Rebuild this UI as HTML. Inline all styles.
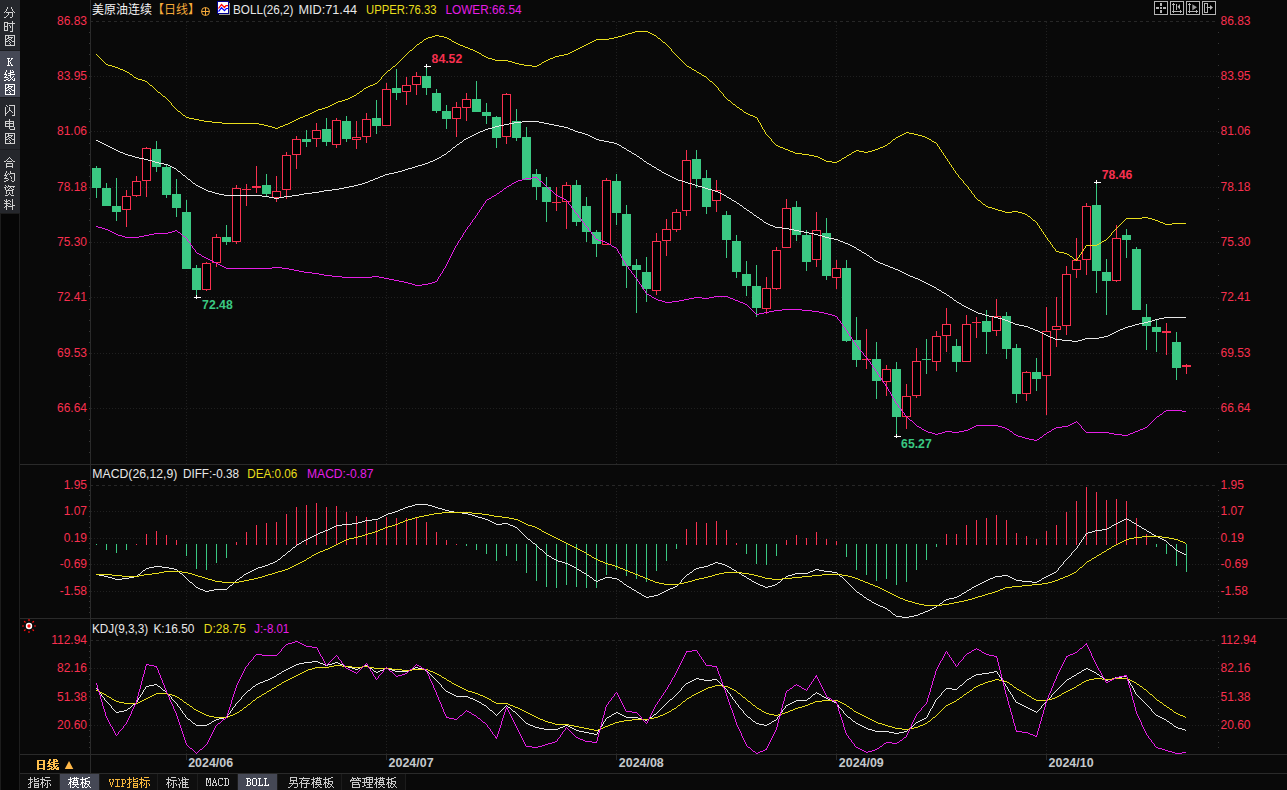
<!DOCTYPE html>
<html><head><meta charset="utf-8"><title>chart</title><style>html,body{margin:0;padding:0;background:#090909;overflow:hidden}svg{display:block}text{white-space:pre}</style></head><body>
<svg width="1287" height="790" viewBox="0 0 1287 790" font-family="Liberation Sans, sans-serif" font-size="12">
<rect x="0" y="0" width="1287" height="790" fill="#090909"/>
<rect x="0" y="0" width="20" height="213" fill="#25272c"/>
<rect x="0" y="51" width="20" height="46" fill="#454855"/>
<rect x="0" y="50" width="20" height="1" fill="#1c1d21"/>
<rect x="0" y="97" width="20" height="1" fill="#1c1d21"/>
<rect x="0" y="149" width="20" height="1" fill="#1c1d21"/>
<rect x="0" y="213" width="20" height="577" fill="#060606"/>
<rect x="0" y="213" width="20" height="1" fill="#1c1c1c"/>
<rect x="0" y="213" width="1" height="577" fill="#1c1c1c"/>
<rect x="19" y="213" width="1" height="577" fill="#1e1e1e"/>
<path d="M7 7.5h1M11 7.5h1M7 8.5h1M11 8.5h1M6 9.5h1M12 9.5h1M6 10.5h1M12 10.5h1M5 11.5h1M13 11.5h1M4 12.5h1M6 12.5h7M14 12.5h1M8 13.5h1M12 13.5h1M8 14.5h1M12 14.5h1M7 15.5h1M12 15.5h1M6 16.5h1M12 16.5h1M4 17.5h2M10 17.5h2M12 21.5h1M4 22.5h4M12 22.5h1M4 23.5h1M7 23.5h8M4 24.5h1M7 24.5h1M12 24.5h1M4 25.5h1M7 25.5h1M9 25.5h1M12 25.5h1M4 26.5h4M10 26.5h1M12 26.5h1M4 27.5h1M7 27.5h1M10 27.5h1M12 27.5h1M4 28.5h1M7 28.5h1M12 28.5h1M4 29.5h1M7 29.5h1M12 29.5h1M4 30.5h4M12 30.5h1M10 31.5h3M5 35.5h10M5 36.5h1M8 36.5h1M14 36.5h1M5 37.5h1M8 37.5h5M14 37.5h1M5 38.5h1M7 38.5h2M11 38.5h1M14 38.5h1M5 39.5h2M9 39.5h2M14 39.5h1M5 40.5h1M8 40.5h1M11 40.5h1M14 40.5h1M5 41.5h3M9 41.5h1M12 41.5h3M5 42.5h1M10 42.5h1M14 42.5h1M5 43.5h1M9 43.5h1M14 43.5h1M5 44.5h1M10 44.5h1M14 44.5h1M5 45.5h10" fill="none" stroke="#d0d0d0" stroke-width="1" shape-rendering="crispEdges"/>
<path d="M7 58.5h3M11 58.5h2M8 59.5h1M11 59.5h1M8 60.5h1M10 60.5h1M8 61.5h2M8 62.5h1M10 62.5h1M8 63.5h1M10 63.5h1M8 64.5h1M11 64.5h1M7 65.5h3M11 65.5h2" fill="none" stroke="#ffffff" stroke-width="1" shape-rendering="crispEdges"/>
<path d="M6 70.5h1M10 70.5h1M12 70.5h1M6 71.5h1M10 71.5h1M13 71.5h1M5 72.5h1M10 72.5h4M5 73.5h1M8 73.5h3M4 74.5h3M10 74.5h5M6 75.5h1M8 75.5h3M5 76.5h1M10 76.5h1M13 76.5h1M4 77.5h4M10 77.5h1M12 77.5h1M8 78.5h1M11 78.5h1M14 78.5h1M6 79.5h2M10 79.5h1M12 79.5h1M14 79.5h1M4 80.5h2M8 80.5h2M13 80.5h2M5 84.5h10M5 85.5h1M8 85.5h1M14 85.5h1M5 86.5h1M8 86.5h5M14 86.5h1M5 87.5h1M7 87.5h2M11 87.5h1M14 87.5h1M5 88.5h2M9 88.5h2M14 88.5h1M5 89.5h1M8 89.5h1M11 89.5h1M14 89.5h1M5 90.5h3M9 90.5h1M12 90.5h3M5 91.5h1M10 91.5h1M14 91.5h1M5 92.5h1M9 92.5h1M14 92.5h1M5 93.5h1M10 93.5h1M14 93.5h1M5 94.5h10" fill="none" stroke="#ffffff" stroke-width="1" shape-rendering="crispEdges"/>
<path d="M6 105.5h1M9 105.5h6M7 106.5h1M14 106.5h1M5 107.5h1M9 107.5h1M14 107.5h1M5 108.5h1M9 108.5h1M14 108.5h1M5 109.5h1M9 109.5h1M14 109.5h1M5 110.5h1M9 110.5h2M14 110.5h1M5 111.5h1M8 111.5h1M11 111.5h1M14 111.5h1M5 112.5h1M7 112.5h1M12 112.5h1M14 112.5h1M5 113.5h2M14 113.5h1M5 114.5h1M14 114.5h1M5 115.5h1M12 115.5h3M9 119.5h1M9 120.5h1M5 121.5h9M5 122.5h1M9 122.5h1M13 122.5h1M5 123.5h9M5 124.5h1M9 124.5h1M13 124.5h1M5 125.5h1M9 125.5h1M13 125.5h1M5 126.5h9M9 127.5h1M14 127.5h1M9 128.5h1M14 128.5h1M10 129.5h5M5 133.5h10M5 134.5h1M8 134.5h1M14 134.5h1M5 135.5h1M8 135.5h5M14 135.5h1M5 136.5h1M7 136.5h2M11 136.5h1M14 136.5h1M5 137.5h2M9 137.5h2M14 137.5h1M5 138.5h1M8 138.5h1M11 138.5h1M14 138.5h1M5 139.5h3M9 139.5h1M12 139.5h3M5 140.5h1M10 140.5h1M14 140.5h1M5 141.5h1M9 141.5h1M14 141.5h1M5 142.5h1M10 142.5h1M14 142.5h1M5 143.5h10" fill="none" stroke="#d0d0d0" stroke-width="1" shape-rendering="crispEdges"/>
<path d="M9 157.5h1M8 158.5h1M10 158.5h1M7 159.5h1M11 159.5h1M6 160.5h1M12 160.5h1M4 161.5h2M7 161.5h5M13 161.5h2M6 163.5h7M6 164.5h1M12 164.5h1M6 165.5h1M12 165.5h1M6 166.5h7M6 167.5h1M12 167.5h1M6 171.5h1M10 171.5h1M6 172.5h1M10 172.5h1M5 173.5h1M8 173.5h1M10 173.5h5M5 174.5h1M7 174.5h1M9 174.5h1M14 174.5h1M4 175.5h3M14 175.5h1M6 176.5h1M10 176.5h1M14 176.5h1M5 177.5h1M11 177.5h1M14 177.5h1M4 178.5h4M11 178.5h1M14 178.5h1M8 179.5h1M14 179.5h1M6 180.5h2M11 180.5h1M14 180.5h1M4 181.5h2M12 181.5h2M5 185.5h1M8 185.5h1M6 186.5h1M8 186.5h7M4 187.5h2M7 187.5h1M10 187.5h1M13 187.5h1M5 188.5h1M9 188.5h1M11 188.5h1M5 189.5h1M8 189.5h1M12 189.5h2M6 190.5h7M6 191.5h1M12 191.5h1M6 192.5h1M9 192.5h1M12 192.5h1M6 193.5h1M9 193.5h1M12 193.5h1M8 194.5h1M10 194.5h1M5 195.5h3M11 195.5h3M6 199.5h1M12 199.5h1M4 200.5h1M6 200.5h1M8 200.5h2M12 200.5h1M5 201.5h3M10 201.5h1M12 201.5h1M6 202.5h1M12 202.5h1M4 203.5h6M12 203.5h1M6 204.5h1M10 204.5h1M12 204.5h1M6 205.5h2M12 205.5h3M5 206.5h2M8 206.5h5M4 207.5h1M6 207.5h1M12 207.5h1M6 208.5h1M12 208.5h1M6 209.5h1M12 209.5h1" fill="none" stroke="#d0d0d0" stroke-width="1" shape-rendering="crispEdges"/>
<rect x="90" y="0" width="1" height="774" fill="#2a2a2a"/>
<rect x="20" y="464" width="1267" height="1" fill="#2a2a2a"/>
<rect x="20" y="618" width="1267" height="1" fill="#2a2a2a"/>
<rect x="20" y="754" width="1267" height="1" fill="#2a2a2a"/>
<rect x="20" y="773" width="1267" height="1" fill="#2a2a2a"/>
<g shape-rendering="crispEdges">
<line x1="91" x2="1216" y1="21.5" y2="21.5" stroke="#272727" stroke-dasharray="3 3" stroke-dashoffset="1"/>
<line x1="91" x2="1218" y1="76.5" y2="76.5" stroke="#202020" stroke-dasharray="1 2"/>
<line x1="91" x2="1218" y1="131.5" y2="131.5" stroke="#202020" stroke-dasharray="1 2"/>
<line x1="91" x2="1218" y1="187.5" y2="187.5" stroke="#202020" stroke-dasharray="1 2"/>
<line x1="91" x2="1218" y1="242.5" y2="242.5" stroke="#202020" stroke-dasharray="1 2"/>
<line x1="91" x2="1218" y1="297.5" y2="297.5" stroke="#202020" stroke-dasharray="1 2"/>
<line x1="91" x2="1218" y1="353.5" y2="353.5" stroke="#202020" stroke-dasharray="1 2"/>
<line x1="91" x2="1218" y1="408.5" y2="408.5" stroke="#202020" stroke-dasharray="1 2"/>
<line x1="91" x2="1216" y1="485.5" y2="485.5" stroke="#272727" stroke-dasharray="3 3" stroke-dashoffset="1"/>
<line x1="91" x2="1218" y1="511.5" y2="511.5" stroke="#202020" stroke-dasharray="1 2"/>
<line x1="91" x2="1218" y1="538.5" y2="538.5" stroke="#202020" stroke-dasharray="1 2"/>
<line x1="91" x2="1218" y1="564.5" y2="564.5" stroke="#202020" stroke-dasharray="1 2"/>
<line x1="91" x2="1218" y1="591.5" y2="591.5" stroke="#202020" stroke-dasharray="1 2"/>
<line x1="91" x2="1216" y1="640.5" y2="640.5" stroke="#272727" stroke-dasharray="3 3" stroke-dashoffset="1"/>
<line x1="91" x2="1218" y1="668.5" y2="668.5" stroke="#202020" stroke-dasharray="1 2"/>
<line x1="91" x2="1218" y1="697.5" y2="697.5" stroke="#202020" stroke-dasharray="1 2"/>
<line x1="91" x2="1218" y1="725.5" y2="725.5" stroke="#202020" stroke-dasharray="1 2"/>
<line x1="186.5" x2="186.5" y1="22" y2="464" stroke="#202020" stroke-dasharray="1 2"/>
<line x1="186.5" x2="186.5" y1="488" y2="618" stroke="#202020" stroke-dasharray="1 2"/>
<line x1="186.5" x2="186.5" y1="642" y2="754" stroke="#202020" stroke-dasharray="1 2"/>
<rect x="186" y="755" width="1" height="5" fill="#2a2a2a"/>
<line x1="386.5" x2="386.5" y1="22" y2="464" stroke="#202020" stroke-dasharray="1 2"/>
<line x1="386.5" x2="386.5" y1="488" y2="618" stroke="#202020" stroke-dasharray="1 2"/>
<line x1="386.5" x2="386.5" y1="642" y2="754" stroke="#202020" stroke-dasharray="1 2"/>
<rect x="386" y="755" width="1" height="5" fill="#2a2a2a"/>
<line x1="616.5" x2="616.5" y1="22" y2="464" stroke="#202020" stroke-dasharray="1 2"/>
<line x1="616.5" x2="616.5" y1="488" y2="618" stroke="#202020" stroke-dasharray="1 2"/>
<line x1="616.5" x2="616.5" y1="642" y2="754" stroke="#202020" stroke-dasharray="1 2"/>
<rect x="616" y="755" width="1" height="5" fill="#2a2a2a"/>
<line x1="836.5" x2="836.5" y1="22" y2="464" stroke="#202020" stroke-dasharray="1 2"/>
<line x1="836.5" x2="836.5" y1="488" y2="618" stroke="#202020" stroke-dasharray="1 2"/>
<line x1="836.5" x2="836.5" y1="642" y2="754" stroke="#202020" stroke-dasharray="1 2"/>
<rect x="836" y="755" width="1" height="5" fill="#2a2a2a"/>
<line x1="1046.5" x2="1046.5" y1="22" y2="464" stroke="#202020" stroke-dasharray="1 2"/>
<line x1="1046.5" x2="1046.5" y1="488" y2="618" stroke="#202020" stroke-dasharray="1 2"/>
<line x1="1046.5" x2="1046.5" y1="642" y2="754" stroke="#202020" stroke-dasharray="1 2"/>
<rect x="1046" y="755" width="1" height="5" fill="#2a2a2a"/>
<rect x="1218" y="32" width="1" height="1" fill="#363636"/>
<rect x="89" y="32" width="1" height="1" fill="#363636"/>
<rect x="1218" y="43" width="1" height="1" fill="#363636"/>
<rect x="89" y="43" width="1" height="1" fill="#363636"/>
<rect x="1218" y="54" width="1" height="1" fill="#363636"/>
<rect x="89" y="54" width="1" height="1" fill="#363636"/>
<rect x="1218" y="65" width="1" height="1" fill="#363636"/>
<rect x="89" y="65" width="1" height="1" fill="#363636"/>
<rect x="1218" y="76" width="1" height="1" fill="#363636"/>
<rect x="89" y="76" width="1" height="1" fill="#363636"/>
<rect x="1218" y="87" width="1" height="1" fill="#363636"/>
<rect x="89" y="87" width="1" height="1" fill="#363636"/>
<rect x="1218" y="98" width="1" height="1" fill="#363636"/>
<rect x="89" y="98" width="1" height="1" fill="#363636"/>
<rect x="1218" y="109" width="1" height="1" fill="#363636"/>
<rect x="89" y="109" width="1" height="1" fill="#363636"/>
<rect x="1218" y="121" width="1" height="1" fill="#363636"/>
<rect x="89" y="121" width="1" height="1" fill="#363636"/>
<rect x="1218" y="132" width="1" height="1" fill="#363636"/>
<rect x="89" y="132" width="1" height="1" fill="#363636"/>
<rect x="1218" y="143" width="1" height="1" fill="#363636"/>
<rect x="89" y="143" width="1" height="1" fill="#363636"/>
<rect x="1218" y="154" width="1" height="1" fill="#363636"/>
<rect x="89" y="154" width="1" height="1" fill="#363636"/>
<rect x="1218" y="165" width="1" height="1" fill="#363636"/>
<rect x="89" y="165" width="1" height="1" fill="#363636"/>
<rect x="1218" y="176" width="1" height="1" fill="#363636"/>
<rect x="89" y="176" width="1" height="1" fill="#363636"/>
<rect x="1218" y="187" width="1" height="1" fill="#363636"/>
<rect x="89" y="187" width="1" height="1" fill="#363636"/>
<rect x="1218" y="198" width="1" height="1" fill="#363636"/>
<rect x="89" y="198" width="1" height="1" fill="#363636"/>
<rect x="1218" y="209" width="1" height="1" fill="#363636"/>
<rect x="89" y="209" width="1" height="1" fill="#363636"/>
<rect x="1218" y="220" width="1" height="1" fill="#363636"/>
<rect x="89" y="220" width="1" height="1" fill="#363636"/>
<rect x="1218" y="231" width="1" height="1" fill="#363636"/>
<rect x="89" y="231" width="1" height="1" fill="#363636"/>
<rect x="1218" y="242" width="1" height="1" fill="#363636"/>
<rect x="89" y="242" width="1" height="1" fill="#363636"/>
<rect x="1218" y="253" width="1" height="1" fill="#363636"/>
<rect x="89" y="253" width="1" height="1" fill="#363636"/>
<rect x="1218" y="264" width="1" height="1" fill="#363636"/>
<rect x="89" y="264" width="1" height="1" fill="#363636"/>
<rect x="1218" y="275" width="1" height="1" fill="#363636"/>
<rect x="89" y="275" width="1" height="1" fill="#363636"/>
<rect x="1218" y="286" width="1" height="1" fill="#363636"/>
<rect x="89" y="286" width="1" height="1" fill="#363636"/>
<rect x="1218" y="298" width="1" height="1" fill="#363636"/>
<rect x="89" y="298" width="1" height="1" fill="#363636"/>
<rect x="1218" y="309" width="1" height="1" fill="#363636"/>
<rect x="89" y="309" width="1" height="1" fill="#363636"/>
<rect x="1218" y="320" width="1" height="1" fill="#363636"/>
<rect x="89" y="320" width="1" height="1" fill="#363636"/>
<rect x="1218" y="331" width="1" height="1" fill="#363636"/>
<rect x="89" y="331" width="1" height="1" fill="#363636"/>
<rect x="1218" y="342" width="1" height="1" fill="#363636"/>
<rect x="89" y="342" width="1" height="1" fill="#363636"/>
<rect x="1218" y="353" width="1" height="1" fill="#363636"/>
<rect x="89" y="353" width="1" height="1" fill="#363636"/>
<rect x="1218" y="364" width="1" height="1" fill="#363636"/>
<rect x="89" y="364" width="1" height="1" fill="#363636"/>
<rect x="1218" y="375" width="1" height="1" fill="#363636"/>
<rect x="89" y="375" width="1" height="1" fill="#363636"/>
<rect x="1218" y="386" width="1" height="1" fill="#363636"/>
<rect x="89" y="386" width="1" height="1" fill="#363636"/>
<rect x="1218" y="397" width="1" height="1" fill="#363636"/>
<rect x="89" y="397" width="1" height="1" fill="#363636"/>
<rect x="1218" y="408" width="1" height="1" fill="#363636"/>
<rect x="89" y="408" width="1" height="1" fill="#363636"/>
<rect x="1218" y="419" width="1" height="1" fill="#363636"/>
<rect x="89" y="419" width="1" height="1" fill="#363636"/>
<rect x="1218" y="430" width="1" height="1" fill="#363636"/>
<rect x="89" y="430" width="1" height="1" fill="#363636"/>
<rect x="1218" y="441" width="1" height="1" fill="#363636"/>
<rect x="89" y="441" width="1" height="1" fill="#363636"/>
<rect x="1218" y="452" width="1" height="1" fill="#363636"/>
<rect x="89" y="452" width="1" height="1" fill="#363636"/>
<rect x="1218" y="490" width="1" height="1" fill="#363636"/>
<rect x="89" y="490" width="1" height="1" fill="#363636"/>
<rect x="1218" y="495" width="1" height="1" fill="#363636"/>
<rect x="89" y="495" width="1" height="1" fill="#363636"/>
<rect x="1218" y="500" width="1" height="1" fill="#363636"/>
<rect x="89" y="500" width="1" height="1" fill="#363636"/>
<rect x="1218" y="506" width="1" height="1" fill="#363636"/>
<rect x="89" y="506" width="1" height="1" fill="#363636"/>
<rect x="1218" y="511" width="1" height="1" fill="#363636"/>
<rect x="89" y="511" width="1" height="1" fill="#363636"/>
<rect x="1218" y="516" width="1" height="1" fill="#363636"/>
<rect x="89" y="516" width="1" height="1" fill="#363636"/>
<rect x="1218" y="522" width="1" height="1" fill="#363636"/>
<rect x="89" y="522" width="1" height="1" fill="#363636"/>
<rect x="1218" y="527" width="1" height="1" fill="#363636"/>
<rect x="89" y="527" width="1" height="1" fill="#363636"/>
<rect x="1218" y="532" width="1" height="1" fill="#363636"/>
<rect x="89" y="532" width="1" height="1" fill="#363636"/>
<rect x="1218" y="538" width="1" height="1" fill="#363636"/>
<rect x="89" y="538" width="1" height="1" fill="#363636"/>
<rect x="1218" y="543" width="1" height="1" fill="#363636"/>
<rect x="89" y="543" width="1" height="1" fill="#363636"/>
<rect x="1218" y="548" width="1" height="1" fill="#363636"/>
<rect x="89" y="548" width="1" height="1" fill="#363636"/>
<rect x="1218" y="554" width="1" height="1" fill="#363636"/>
<rect x="89" y="554" width="1" height="1" fill="#363636"/>
<rect x="1218" y="559" width="1" height="1" fill="#363636"/>
<rect x="89" y="559" width="1" height="1" fill="#363636"/>
<rect x="1218" y="564" width="1" height="1" fill="#363636"/>
<rect x="89" y="564" width="1" height="1" fill="#363636"/>
<rect x="1218" y="569" width="1" height="1" fill="#363636"/>
<rect x="89" y="569" width="1" height="1" fill="#363636"/>
<rect x="1218" y="575" width="1" height="1" fill="#363636"/>
<rect x="89" y="575" width="1" height="1" fill="#363636"/>
<rect x="1218" y="580" width="1" height="1" fill="#363636"/>
<rect x="89" y="580" width="1" height="1" fill="#363636"/>
<rect x="1218" y="585" width="1" height="1" fill="#363636"/>
<rect x="89" y="585" width="1" height="1" fill="#363636"/>
<rect x="1218" y="591" width="1" height="1" fill="#363636"/>
<rect x="89" y="591" width="1" height="1" fill="#363636"/>
<rect x="1218" y="596" width="1" height="1" fill="#363636"/>
<rect x="89" y="596" width="1" height="1" fill="#363636"/>
<rect x="1218" y="601" width="1" height="1" fill="#363636"/>
<rect x="89" y="601" width="1" height="1" fill="#363636"/>
<rect x="1218" y="607" width="1" height="1" fill="#363636"/>
<rect x="89" y="607" width="1" height="1" fill="#363636"/>
<rect x="1218" y="612" width="1" height="1" fill="#363636"/>
<rect x="89" y="612" width="1" height="1" fill="#363636"/>
<rect x="1218" y="645" width="1" height="1" fill="#363636"/>
<rect x="89" y="645" width="1" height="1" fill="#363636"/>
<rect x="1218" y="651" width="1" height="1" fill="#363636"/>
<rect x="89" y="651" width="1" height="1" fill="#363636"/>
<rect x="1218" y="657" width="1" height="1" fill="#363636"/>
<rect x="89" y="657" width="1" height="1" fill="#363636"/>
<rect x="1218" y="662" width="1" height="1" fill="#363636"/>
<rect x="89" y="662" width="1" height="1" fill="#363636"/>
<rect x="1218" y="668" width="1" height="1" fill="#363636"/>
<rect x="89" y="668" width="1" height="1" fill="#363636"/>
<rect x="1218" y="674" width="1" height="1" fill="#363636"/>
<rect x="89" y="674" width="1" height="1" fill="#363636"/>
<rect x="1218" y="679" width="1" height="1" fill="#363636"/>
<rect x="89" y="679" width="1" height="1" fill="#363636"/>
<rect x="1218" y="685" width="1" height="1" fill="#363636"/>
<rect x="89" y="685" width="1" height="1" fill="#363636"/>
<rect x="1218" y="691" width="1" height="1" fill="#363636"/>
<rect x="89" y="691" width="1" height="1" fill="#363636"/>
<rect x="1218" y="696" width="1" height="1" fill="#363636"/>
<rect x="89" y="696" width="1" height="1" fill="#363636"/>
<rect x="1218" y="702" width="1" height="1" fill="#363636"/>
<rect x="89" y="702" width="1" height="1" fill="#363636"/>
<rect x="1218" y="708" width="1" height="1" fill="#363636"/>
<rect x="89" y="708" width="1" height="1" fill="#363636"/>
<rect x="1218" y="713" width="1" height="1" fill="#363636"/>
<rect x="89" y="713" width="1" height="1" fill="#363636"/>
<rect x="1218" y="719" width="1" height="1" fill="#363636"/>
<rect x="89" y="719" width="1" height="1" fill="#363636"/>
<rect x="1218" y="725" width="1" height="1" fill="#363636"/>
<rect x="89" y="725" width="1" height="1" fill="#363636"/>
<rect x="1218" y="730" width="1" height="1" fill="#363636"/>
<rect x="89" y="730" width="1" height="1" fill="#363636"/>
<rect x="1218" y="736" width="1" height="1" fill="#363636"/>
<rect x="89" y="736" width="1" height="1" fill="#363636"/>
<rect x="1218" y="742" width="1" height="1" fill="#363636"/>
<rect x="89" y="742" width="1" height="1" fill="#363636"/>
<rect x="1218" y="747" width="1" height="1" fill="#363636"/>
<rect x="89" y="747" width="1" height="1" fill="#363636"/>
</g>
<text x="87" y="24.5" font-size="12" fill="#f8304f" text-anchor="end">86.83</text>
<text x="1220.5" y="24.5" font-size="12" fill="#f8304f">86.83</text>
<text x="87" y="79.5" font-size="12" fill="#f8304f" text-anchor="end">83.95</text>
<text x="1220.5" y="79.5" font-size="12" fill="#f8304f">83.95</text>
<text x="87" y="134.5" font-size="12" fill="#f8304f" text-anchor="end">81.06</text>
<text x="1220.5" y="134.5" font-size="12" fill="#f8304f">81.06</text>
<text x="87" y="190.5" font-size="12" fill="#f8304f" text-anchor="end">78.18</text>
<text x="1220.5" y="190.5" font-size="12" fill="#f8304f">78.18</text>
<text x="87" y="245.5" font-size="12" fill="#f8304f" text-anchor="end">75.30</text>
<text x="1220.5" y="245.5" font-size="12" fill="#f8304f">75.30</text>
<text x="87" y="300.5" font-size="12" fill="#f8304f" text-anchor="end">72.41</text>
<text x="1220.5" y="300.5" font-size="12" fill="#f8304f">72.41</text>
<text x="87" y="356.5" font-size="12" fill="#f8304f" text-anchor="end">69.53</text>
<text x="1220.5" y="356.5" font-size="12" fill="#f8304f">69.53</text>
<text x="87" y="411.5" font-size="12" fill="#f8304f" text-anchor="end">66.64</text>
<text x="1220.5" y="411.5" font-size="12" fill="#f8304f">66.64</text>
<text x="87" y="488.5" font-size="12" fill="#f8304f" text-anchor="end">1.95</text>
<text x="1220.5" y="488.5" font-size="12" fill="#f8304f">1.95</text>
<text x="87" y="514.5" font-size="12" fill="#f8304f" text-anchor="end">1.07</text>
<text x="1220.5" y="514.5" font-size="12" fill="#f8304f">1.07</text>
<text x="87" y="541.5" font-size="12" fill="#f8304f" text-anchor="end">0.19</text>
<text x="1220.5" y="541.5" font-size="12" fill="#f8304f">0.19</text>
<text x="87" y="567.5" font-size="12" fill="#f8304f" text-anchor="end">-0.69</text>
<text x="1220.5" y="567.5" font-size="12" fill="#f8304f">-0.69</text>
<text x="87" y="594.5" font-size="12" fill="#f8304f" text-anchor="end">-1.58</text>
<text x="1220.5" y="594.5" font-size="12" fill="#f8304f">-1.58</text>
<text x="87" y="643.5" font-size="12" fill="#f8304f" text-anchor="end">112.94</text>
<text x="1220.5" y="643.5" font-size="12" fill="#f8304f">112.94</text>
<text x="87" y="671.5" font-size="12" fill="#f8304f" text-anchor="end">82.16</text>
<text x="1220.5" y="671.5" font-size="12" fill="#f8304f">82.16</text>
<text x="87" y="700.5" font-size="12" fill="#f8304f" text-anchor="end">51.38</text>
<text x="1220.5" y="700.5" font-size="12" fill="#f8304f">51.38</text>
<text x="87" y="728.5" font-size="12" fill="#f8304f" text-anchor="end">20.60</text>
<text x="1220.5" y="728.5" font-size="12" fill="#f8304f">20.60</text>
<g shape-rendering="crispEdges">
<rect x="96" y="166" width="1" height="32" fill="#3ac882"/>
<rect x="92" y="168" width="9" height="20" fill="#3ac882"/>
<rect x="106" y="183" width="1" height="23" fill="#3ac882"/>
<rect x="102" y="188" width="9" height="18" fill="#3ac882"/>
<rect x="116" y="178" width="1" height="43" fill="#3ac882"/>
<rect x="112" y="206" width="9" height="6" fill="#3ac882"/>
<rect x="126" y="190" width="1" height="6" fill="#f8304f"/>
<rect x="126" y="210" width="1" height="17" fill="#f8304f"/>
<rect x="122" y="196" width="9" height="14" fill="#f8304f"/>
<rect x="123" y="197" width="7" height="12" fill="#000"/>
<rect x="136" y="176" width="1" height="5" fill="#f8304f"/>
<rect x="136" y="196" width="1" height="1" fill="#f8304f"/>
<rect x="132" y="181" width="9" height="15" fill="#f8304f"/>
<rect x="133" y="182" width="7" height="13" fill="#000"/>
<rect x="146" y="147" width="1" height="1" fill="#f8304f"/>
<rect x="146" y="181" width="1" height="16" fill="#f8304f"/>
<rect x="142" y="148" width="9" height="33" fill="#f8304f"/>
<rect x="143" y="149" width="7" height="31" fill="#000"/>
<rect x="156" y="141" width="1" height="31" fill="#3ac882"/>
<rect x="152" y="149" width="9" height="18" fill="#3ac882"/>
<rect x="166" y="164" width="1" height="34" fill="#3ac882"/>
<rect x="162" y="167" width="9" height="28" fill="#3ac882"/>
<rect x="176" y="179" width="1" height="38" fill="#3ac882"/>
<rect x="172" y="194" width="9" height="14" fill="#3ac882"/>
<rect x="186" y="200" width="1" height="69" fill="#3ac882"/>
<rect x="182" y="212" width="9" height="57" fill="#3ac882"/>
<rect x="196" y="265" width="1" height="32" fill="#3ac882"/>
<rect x="192" y="268" width="9" height="22" fill="#3ac882"/>
<rect x="206" y="262" width="1" height="1" fill="#f8304f"/>
<rect x="206" y="290" width="1" height="1" fill="#f8304f"/>
<rect x="202" y="263" width="9" height="27" fill="#f8304f"/>
<rect x="203" y="264" width="7" height="25" fill="#000"/>
<rect x="216" y="234" width="1" height="3" fill="#f8304f"/>
<rect x="216" y="263" width="1" height="4" fill="#f8304f"/>
<rect x="212" y="237" width="9" height="26" fill="#f8304f"/>
<rect x="213" y="238" width="7" height="24" fill="#000"/>
<rect x="226" y="225" width="1" height="20" fill="#3ac882"/>
<rect x="222" y="237" width="9" height="5" fill="#3ac882"/>
<rect x="236" y="185" width="1" height="3" fill="#f8304f"/>
<rect x="236" y="242" width="1" height="2" fill="#f8304f"/>
<rect x="232" y="188" width="9" height="54" fill="#f8304f"/>
<rect x="233" y="189" width="7" height="52" fill="#000"/>
<rect x="246" y="184" width="1" height="22" fill="#f8304f"/>
<rect x="242" y="189" width="9" height="1" fill="#f8304f"/>
<rect x="256" y="166" width="1" height="27" fill="#f8304f"/>
<rect x="252" y="186" width="9" height="2" fill="#f8304f"/>
<rect x="266" y="174" width="1" height="22" fill="#3ac882"/>
<rect x="262" y="185" width="9" height="9" fill="#3ac882"/>
<rect x="276" y="176" width="1" height="15" fill="#f8304f"/>
<rect x="276" y="198" width="1" height="4" fill="#f8304f"/>
<rect x="272" y="191" width="9" height="7" fill="#f8304f"/>
<rect x="273" y="192" width="7" height="5" fill="#000"/>
<rect x="286" y="152" width="1" height="3" fill="#f8304f"/>
<rect x="286" y="190" width="1" height="9" fill="#f8304f"/>
<rect x="282" y="155" width="9" height="35" fill="#f8304f"/>
<rect x="283" y="156" width="7" height="33" fill="#000"/>
<rect x="296" y="136" width="1" height="3" fill="#f8304f"/>
<rect x="296" y="155" width="1" height="14" fill="#f8304f"/>
<rect x="292" y="139" width="9" height="16" fill="#f8304f"/>
<rect x="293" y="140" width="7" height="14" fill="#000"/>
<rect x="306" y="130" width="1" height="17" fill="#3ac882"/>
<rect x="302" y="139" width="9" height="3" fill="#3ac882"/>
<rect x="316" y="123" width="1" height="7" fill="#f8304f"/>
<rect x="316" y="139" width="1" height="8" fill="#f8304f"/>
<rect x="312" y="130" width="9" height="9" fill="#f8304f"/>
<rect x="313" y="131" width="7" height="7" fill="#000"/>
<rect x="326" y="118" width="1" height="28" fill="#3ac882"/>
<rect x="322" y="129" width="9" height="13" fill="#3ac882"/>
<rect x="336" y="118" width="1" height="2" fill="#f8304f"/>
<rect x="336" y="145" width="1" height="3" fill="#f8304f"/>
<rect x="332" y="120" width="9" height="25" fill="#f8304f"/>
<rect x="333" y="121" width="7" height="23" fill="#000"/>
<rect x="346" y="116" width="1" height="26" fill="#3ac882"/>
<rect x="342" y="121" width="9" height="18" fill="#3ac882"/>
<rect x="356" y="121" width="1" height="16" fill="#f8304f"/>
<rect x="356" y="140" width="1" height="9" fill="#f8304f"/>
<rect x="352" y="137" width="9" height="3" fill="#f8304f"/>
<rect x="353" y="138" width="7" height="1" fill="#000"/>
<rect x="366" y="113" width="1" height="6" fill="#f8304f"/>
<rect x="366" y="137" width="1" height="6" fill="#f8304f"/>
<rect x="362" y="119" width="9" height="18" fill="#f8304f"/>
<rect x="363" y="120" width="7" height="16" fill="#000"/>
<rect x="376" y="100" width="1" height="34" fill="#3ac882"/>
<rect x="372" y="118" width="9" height="8" fill="#3ac882"/>
<rect x="386" y="83" width="1" height="6" fill="#f8304f"/>
<rect x="382" y="89" width="9" height="37" fill="#f8304f"/>
<rect x="383" y="90" width="7" height="35" fill="#000"/>
<rect x="396" y="69" width="1" height="31" fill="#3ac882"/>
<rect x="392" y="88" width="9" height="5" fill="#3ac882"/>
<rect x="406" y="77" width="1" height="8" fill="#f8304f"/>
<rect x="406" y="92" width="1" height="13" fill="#f8304f"/>
<rect x="402" y="85" width="9" height="7" fill="#f8304f"/>
<rect x="403" y="86" width="7" height="5" fill="#000"/>
<rect x="416" y="72" width="1" height="4" fill="#f8304f"/>
<rect x="416" y="85" width="1" height="10" fill="#f8304f"/>
<rect x="412" y="76" width="9" height="9" fill="#f8304f"/>
<rect x="413" y="77" width="7" height="7" fill="#000"/>
<rect x="426" y="66" width="1" height="29" fill="#3ac882"/>
<rect x="422" y="76" width="9" height="12" fill="#3ac882"/>
<rect x="436" y="89" width="1" height="24" fill="#3ac882"/>
<rect x="432" y="93" width="9" height="18" fill="#3ac882"/>
<rect x="446" y="105" width="1" height="24" fill="#3ac882"/>
<rect x="442" y="111" width="9" height="8" fill="#3ac882"/>
<rect x="456" y="102" width="1" height="5" fill="#f8304f"/>
<rect x="456" y="119" width="1" height="18" fill="#f8304f"/>
<rect x="452" y="107" width="9" height="12" fill="#f8304f"/>
<rect x="453" y="108" width="7" height="10" fill="#000"/>
<rect x="466" y="93" width="1" height="6" fill="#f8304f"/>
<rect x="466" y="108" width="1" height="13" fill="#f8304f"/>
<rect x="462" y="99" width="9" height="9" fill="#f8304f"/>
<rect x="463" y="100" width="7" height="7" fill="#000"/>
<rect x="476" y="81" width="1" height="31" fill="#3ac882"/>
<rect x="472" y="99" width="9" height="13" fill="#3ac882"/>
<rect x="486" y="103" width="1" height="21" fill="#3ac882"/>
<rect x="482" y="112" width="9" height="4" fill="#3ac882"/>
<rect x="496" y="116" width="1" height="32" fill="#3ac882"/>
<rect x="492" y="117" width="9" height="21" fill="#3ac882"/>
<rect x="506" y="93" width="1" height="1" fill="#f8304f"/>
<rect x="506" y="137" width="1" height="7" fill="#f8304f"/>
<rect x="502" y="94" width="9" height="43" fill="#f8304f"/>
<rect x="503" y="95" width="7" height="41" fill="#000"/>
<rect x="516" y="109" width="1" height="32" fill="#3ac882"/>
<rect x="512" y="121" width="9" height="17" fill="#3ac882"/>
<rect x="526" y="127" width="1" height="53" fill="#3ac882"/>
<rect x="522" y="137" width="9" height="43" fill="#3ac882"/>
<rect x="536" y="169" width="1" height="31" fill="#3ac882"/>
<rect x="532" y="174" width="9" height="13" fill="#3ac882"/>
<rect x="546" y="177" width="1" height="45" fill="#3ac882"/>
<rect x="542" y="187" width="9" height="15" fill="#3ac882"/>
<rect x="556" y="187" width="1" height="24" fill="#f8304f"/>
<rect x="552" y="202" width="9" height="1" fill="#f8304f"/>
<rect x="566" y="182" width="1" height="3" fill="#f8304f"/>
<rect x="566" y="202" width="1" height="27" fill="#f8304f"/>
<rect x="562" y="185" width="9" height="17" fill="#f8304f"/>
<rect x="563" y="186" width="7" height="15" fill="#000"/>
<rect x="576" y="180" width="1" height="46" fill="#3ac882"/>
<rect x="572" y="185" width="9" height="37" fill="#3ac882"/>
<rect x="586" y="197" width="1" height="45" fill="#3ac882"/>
<rect x="582" y="206" width="9" height="26" fill="#3ac882"/>
<rect x="596" y="230" width="1" height="27" fill="#3ac882"/>
<rect x="592" y="232" width="9" height="12" fill="#3ac882"/>
<rect x="606" y="178" width="1" height="2" fill="#f8304f"/>
<rect x="602" y="180" width="9" height="65" fill="#f8304f"/>
<rect x="603" y="181" width="7" height="63" fill="#000"/>
<rect x="616" y="174" width="1" height="51" fill="#3ac882"/>
<rect x="612" y="181" width="9" height="32" fill="#3ac882"/>
<rect x="626" y="205" width="1" height="83" fill="#3ac882"/>
<rect x="622" y="214" width="9" height="52" fill="#3ac882"/>
<rect x="636" y="259" width="1" height="54" fill="#3ac882"/>
<rect x="632" y="265" width="9" height="5" fill="#3ac882"/>
<rect x="646" y="257" width="1" height="45" fill="#3ac882"/>
<rect x="642" y="272" width="9" height="17" fill="#3ac882"/>
<rect x="656" y="233" width="1" height="8" fill="#f8304f"/>
<rect x="656" y="291" width="1" height="4" fill="#f8304f"/>
<rect x="652" y="241" width="9" height="50" fill="#f8304f"/>
<rect x="653" y="242" width="7" height="48" fill="#000"/>
<rect x="666" y="219" width="1" height="10" fill="#f8304f"/>
<rect x="666" y="241" width="1" height="15" fill="#f8304f"/>
<rect x="662" y="229" width="9" height="12" fill="#f8304f"/>
<rect x="663" y="230" width="7" height="10" fill="#000"/>
<rect x="676" y="209" width="1" height="3" fill="#f8304f"/>
<rect x="676" y="230" width="1" height="2" fill="#f8304f"/>
<rect x="672" y="212" width="9" height="18" fill="#f8304f"/>
<rect x="673" y="213" width="7" height="16" fill="#000"/>
<rect x="686" y="150" width="1" height="10" fill="#f8304f"/>
<rect x="686" y="211" width="1" height="5" fill="#f8304f"/>
<rect x="682" y="160" width="9" height="51" fill="#f8304f"/>
<rect x="683" y="161" width="7" height="49" fill="#000"/>
<rect x="696" y="150" width="1" height="38" fill="#3ac882"/>
<rect x="692" y="159" width="9" height="20" fill="#3ac882"/>
<rect x="706" y="170" width="1" height="44" fill="#3ac882"/>
<rect x="702" y="178" width="9" height="29" fill="#3ac882"/>
<rect x="716" y="180" width="1" height="10" fill="#f8304f"/>
<rect x="716" y="201" width="1" height="11" fill="#f8304f"/>
<rect x="712" y="190" width="9" height="11" fill="#f8304f"/>
<rect x="713" y="191" width="7" height="9" fill="#000"/>
<rect x="726" y="211" width="1" height="47" fill="#3ac882"/>
<rect x="722" y="215" width="9" height="25" fill="#3ac882"/>
<rect x="736" y="235" width="1" height="43" fill="#3ac882"/>
<rect x="732" y="241" width="9" height="31" fill="#3ac882"/>
<rect x="746" y="261" width="1" height="35" fill="#3ac882"/>
<rect x="742" y="274" width="9" height="12" fill="#3ac882"/>
<rect x="756" y="265" width="1" height="52" fill="#3ac882"/>
<rect x="752" y="286" width="9" height="22" fill="#3ac882"/>
<rect x="766" y="277" width="1" height="11" fill="#f8304f"/>
<rect x="766" y="309" width="1" height="5" fill="#f8304f"/>
<rect x="762" y="288" width="9" height="21" fill="#f8304f"/>
<rect x="763" y="289" width="7" height="19" fill="#000"/>
<rect x="776" y="247" width="1" height="3" fill="#f8304f"/>
<rect x="776" y="289" width="1" height="1" fill="#f8304f"/>
<rect x="772" y="250" width="9" height="39" fill="#f8304f"/>
<rect x="773" y="251" width="7" height="37" fill="#000"/>
<rect x="786" y="199" width="1" height="9" fill="#f8304f"/>
<rect x="782" y="208" width="9" height="40" fill="#f8304f"/>
<rect x="783" y="209" width="7" height="38" fill="#000"/>
<rect x="796" y="201" width="1" height="40" fill="#3ac882"/>
<rect x="792" y="207" width="9" height="28" fill="#3ac882"/>
<rect x="806" y="230" width="1" height="41" fill="#3ac882"/>
<rect x="802" y="235" width="9" height="27" fill="#3ac882"/>
<rect x="816" y="212" width="1" height="18" fill="#f8304f"/>
<rect x="816" y="260" width="1" height="7" fill="#f8304f"/>
<rect x="812" y="230" width="9" height="30" fill="#f8304f"/>
<rect x="813" y="231" width="7" height="28" fill="#000"/>
<rect x="826" y="218" width="1" height="62" fill="#3ac882"/>
<rect x="822" y="233" width="9" height="43" fill="#3ac882"/>
<rect x="836" y="260" width="1" height="8" fill="#f8304f"/>
<rect x="836" y="278" width="1" height="11" fill="#f8304f"/>
<rect x="832" y="268" width="9" height="10" fill="#f8304f"/>
<rect x="833" y="269" width="7" height="8" fill="#000"/>
<rect x="846" y="260" width="1" height="82" fill="#3ac882"/>
<rect x="842" y="268" width="9" height="73" fill="#3ac882"/>
<rect x="856" y="317" width="1" height="50" fill="#3ac882"/>
<rect x="852" y="340" width="9" height="20" fill="#3ac882"/>
<rect x="866" y="329" width="1" height="40" fill="#f8304f"/>
<rect x="862" y="359" width="9" height="1" fill="#f8304f"/>
<rect x="876" y="342" width="1" height="57" fill="#3ac882"/>
<rect x="872" y="359" width="9" height="22" fill="#3ac882"/>
<rect x="886" y="365" width="1" height="4" fill="#f8304f"/>
<rect x="886" y="382" width="1" height="14" fill="#f8304f"/>
<rect x="882" y="369" width="9" height="13" fill="#f8304f"/>
<rect x="883" y="370" width="7" height="11" fill="#000"/>
<rect x="896" y="362" width="1" height="74" fill="#3ac882"/>
<rect x="892" y="369" width="9" height="48" fill="#3ac882"/>
<rect x="906" y="384" width="1" height="12" fill="#f8304f"/>
<rect x="906" y="417" width="1" height="12" fill="#f8304f"/>
<rect x="902" y="396" width="9" height="21" fill="#f8304f"/>
<rect x="903" y="397" width="7" height="19" fill="#000"/>
<rect x="916" y="348" width="1" height="13" fill="#f8304f"/>
<rect x="916" y="396" width="1" height="2" fill="#f8304f"/>
<rect x="912" y="361" width="9" height="35" fill="#f8304f"/>
<rect x="913" y="362" width="7" height="33" fill="#000"/>
<rect x="926" y="339" width="1" height="35" fill="#3ac882"/>
<rect x="922" y="359" width="9" height="1" fill="#3ac882"/>
<rect x="936" y="331" width="1" height="5" fill="#f8304f"/>
<rect x="936" y="362" width="1" height="9" fill="#f8304f"/>
<rect x="932" y="336" width="9" height="26" fill="#f8304f"/>
<rect x="933" y="337" width="7" height="24" fill="#000"/>
<rect x="946" y="308" width="1" height="16" fill="#f8304f"/>
<rect x="946" y="336" width="1" height="16" fill="#f8304f"/>
<rect x="942" y="324" width="9" height="12" fill="#f8304f"/>
<rect x="943" y="325" width="7" height="10" fill="#000"/>
<rect x="956" y="339" width="1" height="33" fill="#3ac882"/>
<rect x="952" y="346" width="9" height="16" fill="#3ac882"/>
<rect x="966" y="315" width="1" height="9" fill="#f8304f"/>
<rect x="962" y="324" width="9" height="38" fill="#f8304f"/>
<rect x="963" y="325" width="7" height="36" fill="#000"/>
<rect x="976" y="317" width="1" height="21" fill="#f8304f"/>
<rect x="972" y="322" width="9" height="1" fill="#f8304f"/>
<rect x="986" y="310" width="1" height="44" fill="#3ac882"/>
<rect x="982" y="321" width="9" height="11" fill="#3ac882"/>
<rect x="996" y="299" width="1" height="17" fill="#f8304f"/>
<rect x="996" y="331" width="1" height="5" fill="#f8304f"/>
<rect x="992" y="316" width="9" height="15" fill="#f8304f"/>
<rect x="993" y="317" width="7" height="13" fill="#000"/>
<rect x="1006" y="312" width="1" height="47" fill="#3ac882"/>
<rect x="1002" y="316" width="9" height="33" fill="#3ac882"/>
<rect x="1016" y="344" width="1" height="59" fill="#3ac882"/>
<rect x="1012" y="348" width="9" height="46" fill="#3ac882"/>
<rect x="1026" y="371" width="1" height="1" fill="#f8304f"/>
<rect x="1026" y="394" width="1" height="7" fill="#f8304f"/>
<rect x="1022" y="372" width="9" height="22" fill="#f8304f"/>
<rect x="1023" y="373" width="7" height="20" fill="#000"/>
<rect x="1036" y="358" width="1" height="33" fill="#3ac882"/>
<rect x="1032" y="372" width="9" height="7" fill="#3ac882"/>
<rect x="1046" y="307" width="1" height="24" fill="#f8304f"/>
<rect x="1046" y="376" width="1" height="39" fill="#f8304f"/>
<rect x="1042" y="331" width="9" height="45" fill="#f8304f"/>
<rect x="1043" y="332" width="7" height="43" fill="#000"/>
<rect x="1056" y="297" width="1" height="29" fill="#f8304f"/>
<rect x="1056" y="330" width="1" height="17" fill="#f8304f"/>
<rect x="1052" y="326" width="9" height="4" fill="#f8304f"/>
<rect x="1053" y="327" width="7" height="2" fill="#000"/>
<rect x="1066" y="266" width="1" height="8" fill="#f8304f"/>
<rect x="1066" y="326" width="1" height="9" fill="#f8304f"/>
<rect x="1062" y="274" width="9" height="52" fill="#f8304f"/>
<rect x="1063" y="275" width="7" height="50" fill="#000"/>
<rect x="1076" y="238" width="1" height="22" fill="#f8304f"/>
<rect x="1076" y="270" width="1" height="8" fill="#f8304f"/>
<rect x="1072" y="260" width="9" height="10" fill="#f8304f"/>
<rect x="1073" y="261" width="7" height="8" fill="#000"/>
<rect x="1086" y="203" width="1" height="3" fill="#f8304f"/>
<rect x="1086" y="260" width="1" height="15" fill="#f8304f"/>
<rect x="1082" y="206" width="9" height="54" fill="#f8304f"/>
<rect x="1083" y="207" width="7" height="52" fill="#000"/>
<rect x="1096" y="182" width="1" height="111" fill="#3ac882"/>
<rect x="1092" y="205" width="9" height="66" fill="#3ac882"/>
<rect x="1106" y="259" width="1" height="56" fill="#3ac882"/>
<rect x="1102" y="272" width="9" height="9" fill="#3ac882"/>
<rect x="1116" y="225" width="1" height="13" fill="#f8304f"/>
<rect x="1116" y="281" width="1" height="1" fill="#f8304f"/>
<rect x="1112" y="238" width="9" height="43" fill="#f8304f"/>
<rect x="1113" y="239" width="7" height="41" fill="#000"/>
<rect x="1126" y="229" width="1" height="29" fill="#3ac882"/>
<rect x="1122" y="235" width="9" height="5" fill="#3ac882"/>
<rect x="1136" y="247" width="1" height="63" fill="#3ac882"/>
<rect x="1132" y="249" width="9" height="61" fill="#3ac882"/>
<rect x="1146" y="304" width="1" height="46" fill="#3ac882"/>
<rect x="1142" y="317" width="9" height="9" fill="#3ac882"/>
<rect x="1156" y="320" width="1" height="32" fill="#3ac882"/>
<rect x="1152" y="327" width="9" height="5" fill="#3ac882"/>
<rect x="1166" y="323" width="1" height="32" fill="#f8304f"/>
<rect x="1162" y="331" width="9" height="2" fill="#f8304f"/>
<rect x="1176" y="332" width="1" height="48" fill="#3ac882"/>
<rect x="1172" y="342" width="9" height="26" fill="#3ac882"/>
<rect x="1186" y="364" width="1" height="10" fill="#f8304f"/>
<rect x="1182" y="365" width="9" height="2" fill="#f8304f"/>
</g>
<path d="M96 54.5h1M97 55.5h1M98 56.5h1M99 57.5h1M100 58.5h1M101 59.5h1M102 60.5h1M103 61.5h1M104 62.5h1M105 63.5h1M106 64.5h2M108 65.5h4M112 66.5h3M115 67.5h3M118 68.5h2M120 69.5h3M123 70.5h2M125 71.5h2M127 72.5h2M129 73.5h1M130 74.5h2M132 75.5h1M133 76.5h1M134 77.5h2M136 78.5h2M138 79.5h4M142 80.5h3M145 81.5h2M147 82.5h1M148 83.5h1M149 84.5h1M150 85.5h2M152 86.5h1M153 87.5h1M154 88.5h1M155 89.5h1M156 90.5h1M157 91.5h1M158 92.5h2M160 93.5h1M161 94.5h1M162 95.5h1M163 96.5h2M165 97.5h1M166 98.5h1M167 99.5h1M168 100.5h1M169 101.5h1M170 102.5h1M171.5 103v2M172 105.5h1M173 106.5h1M174 107.5h1M175 108.5h1M176 109.5h1M177 110.5h1M178 111.5h2M180 112.5h1M181 113.5h1M182 114.5h1M183 115.5h2M185 116.5h1M186 117.5h3M189 118.5h5M194 119.5h5M199 120.5h5M204 121.5h8M212 122.5h10M222 123.5h37M259 124.5h5M264 125.5h4M268 126.5h4M272 127.5h3M275 128.5h3M278 127.5h2M280 126.5h3M283 125.5h2M285 124.5h3M288 123.5h2M290 122.5h2M292 121.5h2M294 120.5h2M296 119.5h2M298 118.5h2M300 117.5h3M303 116.5h2M305 115.5h3M308 114.5h2M310 113.5h2M312 112.5h2M314 111.5h2M316 110.5h2M318 109.5h4M322 108.5h3M325 107.5h3M328 106.5h2M330 105.5h2M332 104.5h2M334 103.5h2M336 102.5h2M338 101.5h4M342 100.5h3M345 99.5h3M348 98.5h2M350 97.5h2M352 96.5h2M354 95.5h2M356 94.5h1M357 93.5h2M359 92.5h1M360 91.5h2M362 90.5h1M363 89.5h1M364 88.5h2M366 87.5h2M368 86.5h2M370 85.5h3M373 84.5h2M375 83.5h2M377 82.5h1M378 81.5h1M379 80.5h1M380 79.5h1M381.5 77v2M382 76.5h1M383 75.5h1M384 74.5h1M385 73.5h1M386 72.5h1M387 71.5h1M388 70.5h2M390 69.5h1M391 68.5h1M392 67.5h1M393 66.5h2M395 65.5h1M396 64.5h1M397 63.5h1M398 62.5h1M399 61.5h1M400 60.5h1M401 59.5h1M402 58.5h1M403 57.5h1M404 56.5h1M405 55.5h1M406 54.5h1M407 53.5h1M408 52.5h1M409 51.5h1M410 50.5h2M412 49.5h1M413 48.5h1M414 47.5h1M415 46.5h1M416 45.5h1M417 44.5h2M419 43.5h1M420 42.5h2M422 41.5h1M423 40.5h1M424 39.5h2M426 38.5h2M428 37.5h4M432 36.5h3M435 35.5h4M439 36.5h5M444 37.5h3M447 38.5h2M449 39.5h2M451 40.5h1M452 41.5h2M454 42.5h2M456 43.5h2M458 44.5h2M460 45.5h3M463 46.5h2M465 47.5h3M468 48.5h2M470 49.5h3M473 50.5h2M475 51.5h2M477 52.5h2M479 53.5h2M481 54.5h1M482 55.5h2M484 56.5h2M486 57.5h2M488 58.5h4M492 59.5h3M495 60.5h13M508 61.5h4M512 62.5h3M515 63.5h4M519 64.5h5M524 65.5h8M532 66.5h5M537 65.5h2M539 64.5h2M541 63.5h1M542 62.5h2M544 61.5h2M546 60.5h2M548 59.5h2M550 58.5h3M553 57.5h2M555 56.5h4M559 55.5h5M564 54.5h4M568 53.5h2M570 52.5h2M572 51.5h2M574 50.5h2M576 49.5h2M578 48.5h2M580 47.5h2M582 46.5h2M584 45.5h2M586 44.5h2M588 43.5h2M590 42.5h2M592 41.5h2M594 40.5h2M596 39.5h13M609 38.5h5M614 37.5h4M618 36.5h4M622 35.5h3M625 34.5h3M628 33.5h4M632 32.5h3M635 31.5h13M648 32.5h2M650 33.5h2M652 34.5h2M654 35.5h2M656 36.5h1M657 37.5h1M658 38.5h2M660 39.5h1M661 40.5h1M662 41.5h1M663 42.5h2M665 43.5h1M666 44.5h1M667 45.5h1M668 46.5h1M669 47.5h1M670 48.5h1M671.5 49v2M672 51.5h1M673 52.5h1M674 53.5h1M675 54.5h1M676 55.5h1M677 56.5h1M678 57.5h1M679 58.5h1M680 59.5h1M681 60.5h1M682 61.5h1M683 62.5h1M684 63.5h1M685 64.5h1M686 65.5h1M687 66.5h2M689 67.5h2M691 68.5h1M692 69.5h2M694 70.5h2M696 71.5h1M697 72.5h2M699 73.5h2M701 74.5h1M702 75.5h2M704 76.5h2M706 77.5h1M707 78.5h1M708 79.5h1M709 80.5h1M710 81.5h2M712 82.5h1M713 83.5h1M714 84.5h1M715 85.5h1M716 86.5h1M717 87.5h1M718.5 88v2M719 90.5h1M720 91.5h1M721 92.5h1M722 93.5h1M723.5 94v2M724 96.5h1M725 97.5h1M726 98.5h1M727 99.5h1M728 100.5h2M730 101.5h1M731 102.5h1M732 103.5h1M733 104.5h2M735 105.5h1M736 106.5h1M737 107.5h2M739 108.5h1M740 109.5h2M742 110.5h1M743 111.5h1M744 112.5h2M746 113.5h2M748 114.5h2M750 115.5h3M753 116.5h2M755 117.5h2M757.5 118v2M758.5 120v2M759 122.5h1M760.5 123v2M761.5 125v2M762.5 127v2M763 129.5h1M764.5 130v2M765.5 132v2M766 134.5h1M767 135.5h1M768 136.5h1M769 137.5h1M770 138.5h1M771.5 139v2M772 141.5h1M773 142.5h1M774 143.5h1M775 144.5h1M776 145.5h2M778 146.5h2M780 147.5h3M783 148.5h2M785 149.5h3M788 150.5h2M790 151.5h3M793 152.5h2M795 153.5h7M802 154.5h7M809 155.5h5M814 156.5h4M818 157.5h2M820 158.5h2M822 159.5h2M824 160.5h2M826 161.5h6M832 162.5h5M837 161.5h2M839 160.5h2M841 159.5h1M842 158.5h2M844 157.5h2M846 156.5h1M847 155.5h2M849 154.5h2M851 153.5h1M852 152.5h2M854 151.5h2M856 150.5h3M859 151.5h5M864 152.5h4M868 151.5h4M872 150.5h3M875 149.5h3M878 148.5h2M880 147.5h3M883 146.5h2M885 145.5h2M887 144.5h1M888 143.5h2M890 142.5h1M891 141.5h1M892 140.5h1M893 139.5h2M895 138.5h1M896 137.5h2M898 136.5h2M900 135.5h2M902 134.5h2M904 133.5h2M906 132.5h3M909 133.5h5M914 134.5h4M918 135.5h4M922 136.5h3M925 137.5h2M927 138.5h2M929 139.5h2M931 140.5h1M932 141.5h2M934 142.5h2M936 143.5h1M937.5 144v2M938 146.5h1M939.5 147v2M940 149.5h1M941.5 150v2M942 152.5h1M943.5 153v2M944 155.5h1M945.5 156v2M946 158.5h1M947.5 159v2M948 161.5h1M949.5 162v2M950 164.5h1M951.5 165v2M952 167.5h1M953.5 168v2M954 170.5h1M955.5 171v2M956 173.5h1M957 174.5h1M958.5 175v2M959 177.5h1M960 178.5h1M961 179.5h1M962 180.5h1M963.5 181v2M964 183.5h1M965 184.5h1M966 185.5h1M967 186.5h1M968.5 187v2M969 189.5h1M970 190.5h1M971.5 191v2M972 193.5h1M973 194.5h1M974.5 195v2M975 197.5h1M976 198.5h1M977 199.5h1M978 200.5h2M980 201.5h1M981 202.5h1M982 203.5h1M983 204.5h2M985 205.5h1M986 206.5h2M988 207.5h4M992 208.5h3M995 209.5h3M998 210.5h4M1002 211.5h3M1005 212.5h7M1012 211.5h6M1018 212.5h4M1022 213.5h3M1025 214.5h2M1027 215.5h1M1028 216.5h2M1030 217.5h1M1031 218.5h1M1032 219.5h1M1033 220.5h2M1035 221.5h1M1036 222.5h1M1037.5 223v2M1038 225.5h1M1039.5 226v2M1040 228.5h1M1041.5 229v2M1042 231.5h1M1043.5 232v2M1044 234.5h1M1045.5 235v2M1046 237.5h1M1047.5 238v2M1048 240.5h1M1049 241.5h1M1050.5 242v2M1051 244.5h1M1052.5 245v2M1053 247.5h1M1054 248.5h1M1055.5 249v2M1056 251.5h3M1059 252.5h5M1064 253.5h3M1067 254.5h2M1069 255.5h1M1070 256.5h2M1072 257.5h1M1073 258.5h1M1074 259.5h2M1076 260.5h1M1077.5 258v2M1078 257.5h1M1079.5 255v2M1080 254.5h1M1081.5 252v2M1082 251.5h1M1083.5 249v2M1084 248.5h1M1085.5 246v2M1086 245.5h11M1097 244.5h2M1099 243.5h2M1101 242.5h1M1102 241.5h2M1104 240.5h2M1106 239.5h1M1107 238.5h1M1108 237.5h1M1109 236.5h1M1110 235.5h1M1111.5 233v2M1112 232.5h1M1113 231.5h1M1114 230.5h1M1115 229.5h1M1116 228.5h1M1117 227.5h1M1118 226.5h1M1119 225.5h1M1120 224.5h1M1121 223.5h1M1122 222.5h1M1123 221.5h1M1124 220.5h1M1125 219.5h1M1126 218.5h16M1142 217.5h6M1148 218.5h4M1152 219.5h3M1155 220.5h3M1158 221.5h2M1160 222.5h3M1163 223.5h2M1165 224.5h7M1172 223.5h14" fill="none" stroke="#e8de1c" stroke-width="1" shape-rendering="crispEdges"/>
<path d="M96 140.5h2M98 141.5h2M100 142.5h2M102 143.5h2M104 144.5h2M106 145.5h2M108 146.5h2M110 147.5h2M112 148.5h2M114 149.5h2M116 150.5h2M118 151.5h2M120 152.5h3M123 153.5h2M125 154.5h3M128 155.5h4M132 156.5h3M135 157.5h4M139 158.5h5M144 159.5h4M148 160.5h4M152 161.5h3M155 162.5h4M159 163.5h5M164 164.5h4M168 165.5h2M170 166.5h2M172 167.5h2M174 168.5h2M176 169.5h1M177 170.5h1M178 171.5h2M180 172.5h1M181 173.5h1M182 174.5h1M183 175.5h2M185 176.5h1M186 177.5h1M187 178.5h1M188 179.5h2M190 180.5h1M191 181.5h1M192 182.5h1M193 183.5h2M195 184.5h1M196 185.5h2M198 186.5h2M200 187.5h2M202 188.5h2M204 189.5h2M206 190.5h2M208 191.5h4M212 192.5h3M215 193.5h4M219 194.5h5M224 195.5h38M262 196.5h7M269 197.5h5M274 198.5h5M279 197.5h5M284 196.5h8M292 195.5h7M299 194.5h5M304 193.5h8M312 192.5h7M319 191.5h5M324 190.5h8M332 189.5h7M339 188.5h5M344 187.5h5M349 186.5h5M354 185.5h4M358 184.5h4M362 183.5h3M365 182.5h3M368 181.5h2M370 180.5h3M373 179.5h2M375 178.5h3M378 177.5h2M380 176.5h3M383 175.5h2M385 174.5h4M389 173.5h5M394 172.5h4M398 171.5h4M402 170.5h3M405 169.5h3M408 168.5h4M412 167.5h3M415 166.5h3M418 165.5h4M422 164.5h3M425 163.5h3M428 162.5h2M430 161.5h3M433 160.5h2M435 159.5h2M437 158.5h2M439 157.5h2M441 156.5h1M442 155.5h2M444 154.5h2M446 153.5h1M447 152.5h1M448 151.5h2M450 150.5h1M451 149.5h1M452 148.5h1M453 147.5h2M455 146.5h1M456 145.5h1M457 144.5h2M459 143.5h1M460 142.5h2M462 141.5h1M463 140.5h1M464 139.5h2M466 138.5h2M468 137.5h2M470 136.5h2M472 135.5h2M474 134.5h2M476 133.5h2M478 132.5h2M480 131.5h3M483 130.5h2M485 129.5h3M488 128.5h4M492 127.5h3M495 126.5h4M499 125.5h5M504 124.5h5M509 123.5h5M514 122.5h8M522 121.5h17M539 122.5h5M544 123.5h5M549 124.5h5M554 125.5h5M559 126.5h5M564 127.5h4M568 128.5h2M570 129.5h3M573 130.5h2M575 131.5h3M578 132.5h4M582 133.5h3M585 134.5h3M588 135.5h2M590 136.5h2M592 137.5h2M594 138.5h2M596 139.5h3M599 140.5h5M604 141.5h5M609 142.5h5M614 143.5h3M617 144.5h2M619 145.5h2M621 146.5h1M622 147.5h2M624 148.5h2M626 149.5h1M627 150.5h2M629 151.5h2M631 152.5h1M632 153.5h2M634 154.5h2M636 155.5h1M637 156.5h2M639 157.5h1M640 158.5h2M642 159.5h1M643 160.5h1M644 161.5h2M646 162.5h1M647 163.5h2M649 164.5h2M651 165.5h1M652 166.5h2M654 167.5h2M656 168.5h1M657 169.5h2M659 170.5h2M661 171.5h1M662 172.5h2M664 173.5h2M666 174.5h2M668 175.5h2M670 176.5h2M672 177.5h2M674 178.5h2M676 179.5h2M678 180.5h4M682 181.5h3M685 182.5h3M688 183.5h4M692 184.5h3M695 185.5h3M698 186.5h4M702 187.5h3M705 188.5h3M708 189.5h4M712 190.5h3M715 191.5h3M718 192.5h2M720 193.5h2M722 194.5h2M724 195.5h2M726 196.5h1M727 197.5h2M729 198.5h2M731 199.5h1M732 200.5h2M734 201.5h2M736 202.5h1M737 203.5h2M739 204.5h1M740 205.5h2M742 206.5h1M743 207.5h1M744 208.5h2M746 209.5h1M747 210.5h2M749 211.5h1M750 212.5h2M752 213.5h1M753 214.5h1M754 215.5h2M756 216.5h1M757 217.5h2M759 218.5h1M760 219.5h2M762 220.5h1M763 221.5h1M764 222.5h2M766 223.5h2M768 224.5h2M770 225.5h3M773 226.5h2M775 227.5h7M782 228.5h7M789 229.5h5M794 230.5h5M799 231.5h5M804 232.5h5M809 233.5h5M814 234.5h4M818 235.5h4M822 236.5h3M825 237.5h4M829 238.5h5M834 239.5h4M838 240.5h2M840 241.5h3M843 242.5h2M845 243.5h3M848 244.5h2M850 245.5h2M852 246.5h2M854 247.5h2M856 248.5h1M857 249.5h2M859 250.5h2M861 251.5h1M862 252.5h2M864 253.5h2M866 254.5h1M867 255.5h2M869 256.5h1M870 257.5h2M872 258.5h1M873 259.5h1M874 260.5h2M876 261.5h2M878 262.5h2M880 263.5h3M883 264.5h2M885 265.5h3M888 266.5h2M890 267.5h3M893 268.5h2M895 269.5h3M898 270.5h2M900 271.5h2M902 272.5h2M904 273.5h2M906 274.5h2M908 275.5h2M910 276.5h3M913 277.5h2M915 278.5h3M918 279.5h2M920 280.5h2M922 281.5h2M924 282.5h2M926 283.5h2M928 284.5h2M930 285.5h2M932 286.5h2M934 287.5h2M936 288.5h1M937 289.5h2M939 290.5h2M941 291.5h1M942 292.5h2M944 293.5h2M946 294.5h1M947 295.5h2M949 296.5h1M950 297.5h2M952 298.5h1M953 299.5h1M954 300.5h2M956 301.5h1M957 302.5h2M959 303.5h2M961 304.5h1M962 305.5h2M964 306.5h2M966 307.5h2M968 308.5h2M970 309.5h2M972 310.5h2M974 311.5h2M976 312.5h2M978 313.5h4M982 314.5h3M985 315.5h4M989 316.5h5M994 317.5h4M998 318.5h4M1002 319.5h3M1005 320.5h3M1008 321.5h2M1010 322.5h3M1013 323.5h2M1015 324.5h4M1019 325.5h5M1024 326.5h4M1028 327.5h2M1030 328.5h3M1033 329.5h2M1035 330.5h3M1038 331.5h2M1040 332.5h2M1042 333.5h2M1044 334.5h2M1046 335.5h2M1048 336.5h2M1050 337.5h3M1053 338.5h2M1055 339.5h7M1062 340.5h10M1072 341.5h6M1078 340.5h4M1082 339.5h3M1085 338.5h14M1099 337.5h5M1104 336.5h4M1108 335.5h2M1110 334.5h2M1112 333.5h2M1114 332.5h2M1116 331.5h2M1118 330.5h2M1120 329.5h3M1123 328.5h2M1125 327.5h3M1128 326.5h4M1132 325.5h3M1135 324.5h4M1139 323.5h5M1144 322.5h4M1148 321.5h4M1152 320.5h3M1155 319.5h4M1159 318.5h5M1164 317.5h22" fill="none" stroke="#e6e6e6" stroke-width="1" shape-rendering="crispEdges"/>
<path d="M96 226.5h2M98 227.5h4M102 228.5h3M105 229.5h3M108 230.5h2M110 231.5h2M112 232.5h2M114 233.5h2M116 234.5h2M118 235.5h4M122 236.5h3M125 237.5h14M139 236.5h5M144 235.5h5M149 234.5h5M154 233.5h14M168 232.5h4M172 231.5h3M175 230.5h2M177 231.5h1M178 232.5h2M180 233.5h1M181 234.5h1M182 235.5h1M183 236.5h2M185 237.5h1M186 238.5h1M187.5 239v2M188 241.5h1M189 242.5h1M190.5 243v2M191 245.5h1M192.5 246v2M193 248.5h1M194 249.5h1M195.5 250v2M196 252.5h1M197 253.5h2M199 254.5h2M201 255.5h1M202 256.5h2M204 257.5h2M206 258.5h2M208 259.5h2M210 260.5h2M212 261.5h2M214 262.5h2M216 263.5h2M218 264.5h2M220 265.5h2M222 266.5h2M224 267.5h2M226 268.5h46M272 267.5h10M282 268.5h7M289 269.5h5M294 270.5h5M299 271.5h5M304 272.5h8M312 273.5h7M319 274.5h5M324 275.5h8M332 276.5h10M342 277.5h30M372 276.5h7M379 277.5h5M384 278.5h5M389 279.5h5M394 280.5h5M399 281.5h5M404 282.5h4M408 283.5h4M412 284.5h3M415 285.5h7M422 284.5h6M428 283.5h4M432 282.5h3M435 281.5h2M437.5 279v2M438.5 277v2M439 276.5h1M440.5 274v2M441 273.5h1M442.5 271v2M443.5 269v2M444 268.5h1M445.5 266v2M446.5 264v2M447.5 262v2M448.5 260v2M449.5 258v2M450.5 256v2M451.5 254v2M452.5 252v2M453.5 250v2M454.5 248v2M455.5 246v2M456 245.5h1M457.5 243v2M458.5 241v2M459 240.5h1M460.5 238v2M461 237.5h1M462.5 235v2M463.5 233v2M464 232.5h1M465.5 230v2M466 229.5h1M467.5 227v2M468 226.5h1M469 225.5h1M470.5 223v2M471 222.5h1M472.5 220v2M473 219.5h1M474 218.5h1M475.5 216v2M476 215.5h1M477.5 213v2M478 212.5h1M479.5 210v2M480 209.5h1M481.5 207v2M482 206.5h1M483.5 204v2M484 203.5h1M485.5 201v2M486 200.5h1M487 199.5h2M489 198.5h2M491 197.5h1M492 196.5h2M494 195.5h2M496 194.5h1M497 193.5h2M499 192.5h1M500 191.5h2M502 190.5h1M503 189.5h1M504 188.5h2M506 187.5h1M507 186.5h2M509 185.5h2M511 184.5h1M512 183.5h2M514 182.5h2M516 181.5h2M518 180.5h4M522 179.5h3M525 178.5h7M532 177.5h5M537 178.5h1M538 179.5h1M539 180.5h1M540 181.5h2M542 182.5h1M543 183.5h1M544 184.5h1M545 185.5h1M546 186.5h1M547 187.5h1M548 188.5h1M549 189.5h1M550 190.5h2M552 191.5h1M553 192.5h1M554 193.5h1M555 194.5h1M556 195.5h2M558 196.5h2M560 197.5h2M562 198.5h2M564 199.5h2M566 200.5h1M567 201.5h1M568.5 202v2M569 204.5h1M570 205.5h1M571.5 206v2M572 208.5h1M573 209.5h1M574.5 210v2M575 212.5h1M576 213.5h1M577 214.5h1M578.5 215v2M579 217.5h1M580 218.5h1M581.5 219v2M582 221.5h1M583 222.5h1M584.5 223v2M585 225.5h1M586 226.5h1M587 227.5h1M588.5 228v2M589 230.5h1M590 231.5h1M591.5 232v2M592 234.5h1M593 235.5h1M594.5 236v2M595 238.5h1M596 239.5h2M598 240.5h4M602 241.5h3M605 242.5h2M607 243.5h2M609 244.5h2M611 245.5h1M612 246.5h2M614 247.5h2M616 248.5h1M617.5 249v2M618.5 251v2M619 253.5h1M620.5 254v2M621.5 256v2M622.5 258v2M623 260.5h1M624.5 261v2M625.5 263v2M626 265.5h1M627 266.5h1M628.5 267v2M629 269.5h1M630 270.5h1M631.5 271v2M632 273.5h1M633 274.5h1M634.5 275v2M635 277.5h1M636 278.5h1M637.5 279v2M638 281.5h1M639.5 282v2M640 284.5h1M641.5 285v2M642 287.5h1M643.5 288v2M644 290.5h1M645.5 291v2M646 293.5h1M647 294.5h2M649 295.5h2M651 296.5h1M652 297.5h2M654 298.5h2M656 299.5h2M658 300.5h4M662 301.5h3M665 302.5h7M672 301.5h7M679 300.5h5M684 299.5h5M689 298.5h5M694 297.5h8M702 298.5h7M709 297.5h5M714 296.5h14M728 297.5h2M730 298.5h3M733 299.5h2M735 300.5h3M738 301.5h2M740 302.5h3M743 303.5h2M745 304.5h2M747 305.5h1M748 306.5h1M749 307.5h1M750 308.5h1M751 309.5h1M752 310.5h1M753 311.5h1M754 312.5h1M755 313.5h1M756 314.5h3M759 313.5h5M764 312.5h5M769 311.5h5M774 310.5h8M782 309.5h20M802 310.5h10M812 311.5h7M819 312.5h5M824 313.5h4M828 314.5h4M832 315.5h3M835 316.5h2M837.5 317v2M838 319.5h1M839 320.5h1M840.5 321v2M841 323.5h1M842.5 324v2M843 326.5h1M844 327.5h1M845.5 328v2M846 330.5h1M847.5 331v2M848 333.5h1M849.5 334v2M850 336.5h1M851.5 337v2M852 339.5h1M853.5 340v2M854 342.5h1M855.5 343v2M856 345.5h1M857 346.5h1M858.5 347v2M859 349.5h1M860 350.5h1M861 351.5h1M862 352.5h1M863.5 353v2M864 355.5h1M865 356.5h1M866 357.5h1M867.5 358v2M868 360.5h1M869 361.5h1M870.5 362v2M871 364.5h1M872.5 365v2M873 367.5h1M874 368.5h1M875.5 369v2M876 371.5h1M877.5 372v2M878 374.5h1M879.5 375v2M880 377.5h1M881.5 378v2M882 380.5h1M883.5 381v2M884 383.5h1M885.5 384v2M886 386.5h1M887.5 387v2M888.5 389v2M889 391.5h1M890.5 392v2M891.5 394v2M892.5 396v2M893 398.5h1M894.5 399v2M895.5 401v2M896 403.5h1M897 404.5h1M898.5 405v2M899 407.5h1M900 408.5h1M901.5 409v2M902 411.5h1M903 412.5h1M904.5 413v2M905 415.5h1M906 416.5h1M907 417.5h1M908 418.5h1M909 419.5h1M910 420.5h2M912 421.5h1M913 422.5h1M914 423.5h1M915 424.5h1M916 425.5h1M917 426.5h2M919 427.5h2M921 428.5h1M922 429.5h2M924 430.5h2M926 431.5h2M928 432.5h4M932 433.5h3M935 434.5h3M938 433.5h4M942 432.5h3M945 431.5h7M952 432.5h7M959 431.5h5M964 430.5h4M968 429.5h2M970 428.5h2M972 427.5h2M974 426.5h2M976 425.5h22M998 426.5h4M1002 427.5h3M1005 428.5h2M1007 429.5h2M1009 430.5h1M1010 431.5h2M1012 432.5h1M1013 433.5h1M1014 434.5h2M1016 435.5h2M1018 436.5h4M1022 437.5h3M1025 438.5h4M1029 439.5h5M1034 440.5h3M1037 439.5h2M1039 438.5h1M1040 437.5h2M1042 436.5h1M1043 435.5h1M1044 434.5h2M1046 433.5h1M1047 432.5h2M1049 431.5h2M1051 430.5h1M1052 429.5h2M1054 428.5h2M1056 427.5h6M1062 426.5h6M1068 425.5h2M1070 424.5h2M1072 423.5h2M1074 422.5h2M1076 421.5h1M1077 422.5h1M1078 423.5h1M1079 424.5h1M1080 425.5h1M1081.5 426v2M1082 428.5h1M1083 429.5h1M1084 430.5h1M1085 431.5h1M1086 432.5h23M1109 433.5h5M1114 434.5h8M1122 435.5h6M1128 434.5h2M1130 433.5h3M1133 432.5h2M1135 431.5h3M1138 430.5h2M1140 429.5h3M1143 428.5h2M1145 427.5h2M1147 426.5h1M1148 425.5h1M1149 424.5h1M1150 423.5h1M1151 422.5h1M1152 421.5h1M1153 420.5h1M1154 419.5h1M1155 418.5h1M1156 417.5h1M1157 416.5h2M1159 415.5h1M1160 414.5h2M1162 413.5h1M1163 412.5h1M1164 411.5h2M1166 410.5h16M1182 411.5h4" fill="none" stroke="#e61ee6" stroke-width="1" shape-rendering="crispEdges"/>
<rect x="424" y="66" width="7" height="1" fill="#ffffff" shape-rendering="crispEdges"/>
<rect x="426" y="64" width="1" height="4" fill="#ffffff" shape-rendering="crispEdges"/>
<rect x="1094" y="182" width="7" height="1" fill="#ffffff" shape-rendering="crispEdges"/>
<rect x="1096" y="180" width="1" height="4" fill="#ffffff" shape-rendering="crispEdges"/>
<rect x="194" y="297" width="7" height="1" fill="#ffffff" shape-rendering="crispEdges"/>
<rect x="196" y="295" width="1" height="4" fill="#ffffff" shape-rendering="crispEdges"/>
<rect x="894" y="436" width="7" height="1" fill="#ffffff" shape-rendering="crispEdges"/>
<rect x="896" y="434" width="1" height="4" fill="#ffffff" shape-rendering="crispEdges"/>
<text x="431.6" y="63" font-size="12" fill="#f8304f" font-weight="bold" textLength="30.6" lengthAdjust="spacingAndGlyphs">84.52</text>
<text x="1101.7" y="179" font-size="12" fill="#f8304f" font-weight="bold" textLength="30.6" lengthAdjust="spacingAndGlyphs">78.46</text>
<text x="202.1" y="309" font-size="12" fill="#3ac882" font-weight="bold" textLength="30.6" lengthAdjust="spacingAndGlyphs">72.48</text>
<text x="901.1" y="448" font-size="12" fill="#3ac882" font-weight="bold" textLength="30.6" lengthAdjust="spacingAndGlyphs">65.27</text>
<g shape-rendering="crispEdges">
<rect x="96" y="544" width="1" height="1" fill="#3ac882"/>
<rect x="106" y="544" width="1" height="6" fill="#3ac882"/>
<rect x="116" y="544" width="1" height="9" fill="#3ac882"/>
<rect x="126" y="544" width="1" height="6" fill="#3ac882"/>
<rect x="136" y="544" width="1" height="1" fill="#f8304f"/>
<rect x="146" y="534" width="1" height="11" fill="#f8304f"/>
<rect x="156" y="531" width="1" height="14" fill="#f8304f"/>
<rect x="166" y="535" width="1" height="10" fill="#f8304f"/>
<rect x="176" y="540" width="1" height="5" fill="#f8304f"/>
<rect x="186" y="544" width="1" height="12" fill="#3ac882"/>
<rect x="196" y="544" width="1" height="25" fill="#3ac882"/>
<rect x="206" y="544" width="1" height="26" fill="#3ac882"/>
<rect x="216" y="544" width="1" height="19" fill="#3ac882"/>
<rect x="226" y="544" width="1" height="14" fill="#3ac882"/>
<rect x="236" y="542" width="1" height="3" fill="#f8304f"/>
<rect x="246" y="532" width="1" height="13" fill="#f8304f"/>
<rect x="256" y="525" width="1" height="20" fill="#f8304f"/>
<rect x="266" y="523" width="1" height="22" fill="#f8304f"/>
<rect x="276" y="522" width="1" height="23" fill="#f8304f"/>
<rect x="286" y="514" width="1" height="31" fill="#f8304f"/>
<rect x="296" y="507" width="1" height="38" fill="#f8304f"/>
<rect x="306" y="505" width="1" height="40" fill="#f8304f"/>
<rect x="316" y="503" width="1" height="42" fill="#f8304f"/>
<rect x="326" y="507" width="1" height="38" fill="#f8304f"/>
<rect x="336" y="506" width="1" height="39" fill="#f8304f"/>
<rect x="346" y="512" width="1" height="33" fill="#f8304f"/>
<rect x="356" y="516" width="1" height="29" fill="#f8304f"/>
<rect x="366" y="517" width="1" height="28" fill="#f8304f"/>
<rect x="376" y="521" width="1" height="24" fill="#f8304f"/>
<rect x="386" y="517" width="1" height="28" fill="#f8304f"/>
<rect x="396" y="518" width="1" height="27" fill="#f8304f"/>
<rect x="406" y="518" width="1" height="27" fill="#f8304f"/>
<rect x="416" y="518" width="1" height="27" fill="#f8304f"/>
<rect x="426" y="522" width="1" height="23" fill="#f8304f"/>
<rect x="436" y="532" width="1" height="13" fill="#f8304f"/>
<rect x="446" y="540" width="1" height="5" fill="#f8304f"/>
<rect x="456" y="544" width="1" height="1" fill="#f8304f"/>
<rect x="466" y="544" width="1" height="2" fill="#3ac882"/>
<rect x="476" y="544" width="1" height="6" fill="#3ac882"/>
<rect x="486" y="544" width="1" height="10" fill="#3ac882"/>
<rect x="496" y="544" width="1" height="17" fill="#3ac882"/>
<rect x="506" y="544" width="1" height="12" fill="#3ac882"/>
<rect x="516" y="544" width="1" height="17" fill="#3ac882"/>
<rect x="526" y="544" width="1" height="29" fill="#3ac882"/>
<rect x="536" y="544" width="1" height="37" fill="#3ac882"/>
<rect x="546" y="544" width="1" height="43" fill="#3ac882"/>
<rect x="556" y="544" width="1" height="44" fill="#3ac882"/>
<rect x="566" y="544" width="1" height="41" fill="#3ac882"/>
<rect x="576" y="544" width="1" height="43" fill="#3ac882"/>
<rect x="586" y="544" width="1" height="44" fill="#3ac882"/>
<rect x="596" y="544" width="1" height="44" fill="#3ac882"/>
<rect x="606" y="544" width="1" height="31" fill="#3ac882"/>
<rect x="616" y="544" width="1" height="26" fill="#3ac882"/>
<rect x="626" y="544" width="1" height="32" fill="#3ac882"/>
<rect x="636" y="544" width="1" height="35" fill="#3ac882"/>
<rect x="646" y="544" width="1" height="38" fill="#3ac882"/>
<rect x="656" y="544" width="1" height="27" fill="#3ac882"/>
<rect x="666" y="544" width="1" height="17" fill="#3ac882"/>
<rect x="676" y="544" width="1" height="5" fill="#3ac882"/>
<rect x="686" y="529" width="1" height="16" fill="#f8304f"/>
<rect x="696" y="522" width="1" height="23" fill="#f8304f"/>
<rect x="706" y="523" width="1" height="22" fill="#f8304f"/>
<rect x="716" y="521" width="1" height="24" fill="#f8304f"/>
<rect x="726" y="530" width="1" height="15" fill="#f8304f"/>
<rect x="736" y="543" width="1" height="2" fill="#f8304f"/>
<rect x="746" y="544" width="1" height="10" fill="#3ac882"/>
<rect x="756" y="544" width="1" height="20" fill="#3ac882"/>
<rect x="766" y="544" width="1" height="21" fill="#3ac882"/>
<rect x="776" y="544" width="1" height="12" fill="#3ac882"/>
<rect x="786" y="540" width="1" height="5" fill="#f8304f"/>
<rect x="796" y="535" width="1" height="10" fill="#f8304f"/>
<rect x="806" y="538" width="1" height="7" fill="#f8304f"/>
<rect x="816" y="532" width="1" height="13" fill="#f8304f"/>
<rect x="826" y="539" width="1" height="6" fill="#f8304f"/>
<rect x="836" y="541" width="1" height="4" fill="#f8304f"/>
<rect x="846" y="544" width="1" height="13" fill="#3ac882"/>
<rect x="856" y="544" width="1" height="26" fill="#3ac882"/>
<rect x="866" y="544" width="1" height="31" fill="#3ac882"/>
<rect x="876" y="544" width="1" height="37" fill="#3ac882"/>
<rect x="886" y="544" width="1" height="35" fill="#3ac882"/>
<rect x="896" y="544" width="1" height="41" fill="#3ac882"/>
<rect x="906" y="544" width="1" height="38" fill="#3ac882"/>
<rect x="916" y="544" width="1" height="26" fill="#3ac882"/>
<rect x="926" y="544" width="1" height="16" fill="#3ac882"/>
<rect x="936" y="544" width="1" height="3" fill="#3ac882"/>
<rect x="946" y="534" width="1" height="11" fill="#f8304f"/>
<rect x="956" y="534" width="1" height="11" fill="#f8304f"/>
<rect x="966" y="525" width="1" height="20" fill="#f8304f"/>
<rect x="976" y="520" width="1" height="25" fill="#f8304f"/>
<rect x="986" y="518" width="1" height="27" fill="#f8304f"/>
<rect x="996" y="515" width="1" height="30" fill="#f8304f"/>
<rect x="1006" y="520" width="1" height="25" fill="#f8304f"/>
<rect x="1016" y="533" width="1" height="12" fill="#f8304f"/>
<rect x="1026" y="536" width="1" height="9" fill="#f8304f"/>
<rect x="1036" y="539" width="1" height="6" fill="#f8304f"/>
<rect x="1046" y="531" width="1" height="14" fill="#f8304f"/>
<rect x="1056" y="525" width="1" height="20" fill="#f8304f"/>
<rect x="1066" y="512" width="1" height="33" fill="#f8304f"/>
<rect x="1076" y="501" width="1" height="44" fill="#f8304f"/>
<rect x="1086" y="487" width="1" height="58" fill="#f8304f"/>
<rect x="1096" y="492" width="1" height="53" fill="#f8304f"/>
<rect x="1106" y="500" width="1" height="45" fill="#f8304f"/>
<rect x="1116" y="499" width="1" height="46" fill="#f8304f"/>
<rect x="1126" y="501" width="1" height="44" fill="#f8304f"/>
<rect x="1136" y="518" width="1" height="27" fill="#f8304f"/>
<rect x="1146" y="534" width="1" height="11" fill="#f8304f"/>
<rect x="1156" y="544" width="1" height="3" fill="#3ac882"/>
<rect x="1166" y="544" width="1" height="10" fill="#3ac882"/>
<rect x="1176" y="544" width="1" height="22" fill="#3ac882"/>
<rect x="1186" y="544" width="1" height="28" fill="#3ac882"/>
</g>
<path d="M96 574.5h3M99 575.5h5M104 576.5h4M108 577.5h4M112 578.5h3M115 579.5h7M122 578.5h7M129 577.5h5M134 576.5h3M137 575.5h1M138 574.5h2M140 573.5h1M141 572.5h1M142 571.5h1M143 570.5h2M145 569.5h1M146 568.5h3M149 567.5h5M154 566.5h8M162 567.5h7M169 568.5h5M174 569.5h3M177 570.5h1M178 571.5h1M179 572.5h1M180 573.5h2M182 574.5h1M183 575.5h1M184 576.5h1M185 577.5h1M186 578.5h1M187 579.5h1M188 580.5h1M189 581.5h1M190 582.5h2M192 583.5h1M193 584.5h1M194 585.5h1M195 586.5h1M196 587.5h2M198 588.5h2M200 589.5h3M203 590.5h2M205 591.5h4M209 590.5h5M214 589.5h13M227 588.5h1M228 587.5h1M229 586.5h1M230 585.5h2M232 584.5h1M233 583.5h1M234 582.5h1M235 581.5h1M236 580.5h1M237 579.5h2M239 578.5h1M240 577.5h2M242 576.5h1M243 575.5h1M244 574.5h2M246 573.5h2M248 572.5h2M250 571.5h2M252 570.5h2M254 569.5h2M256 568.5h2M258 567.5h4M262 566.5h3M265 565.5h3M268 564.5h2M270 563.5h3M273 562.5h2M275 561.5h2M277 560.5h1M278 559.5h2M280 558.5h1M281 557.5h1M282 556.5h1M283 555.5h2M285 554.5h1M286 553.5h1M287 552.5h1M288 551.5h2M290 550.5h1M291 549.5h1M292 548.5h1M293 547.5h2M295 546.5h1M296 545.5h1M297 544.5h2M299 543.5h2M301 542.5h1M302 541.5h2M304 540.5h2M306 539.5h2M308 538.5h2M310 537.5h2M312 536.5h2M314 535.5h2M316 534.5h2M318 533.5h2M320 532.5h3M323 531.5h2M325 530.5h3M328 529.5h2M330 528.5h2M332 527.5h2M334 526.5h2M336 525.5h6M342 524.5h10M352 523.5h6M358 522.5h4M362 521.5h3M365 520.5h7M372 519.5h6M378 518.5h2M380 517.5h2M382 516.5h2M384 515.5h2M386 514.5h2M388 513.5h4M392 512.5h3M395 511.5h3M398 510.5h2M400 509.5h3M403 508.5h2M405 507.5h3M408 506.5h4M412 505.5h3M415 504.5h13M428 505.5h4M432 506.5h3M435 507.5h3M438 508.5h4M442 509.5h3M445 510.5h4M449 511.5h5M454 512.5h8M462 513.5h6M468 514.5h4M472 515.5h3M475 516.5h3M478 517.5h4M482 518.5h3M485 519.5h3M488 520.5h2M490 521.5h2M492 522.5h2M494 523.5h2M496 524.5h6M502 523.5h6M508 524.5h2M510 525.5h3M513 526.5h2M515 527.5h2M517 528.5h1M518 529.5h1M519 530.5h1M520 531.5h1M521 532.5h1M522 533.5h1M523 534.5h1M524 535.5h1M525 536.5h1M526 537.5h1M527 538.5h1M528 539.5h2M530 540.5h1M531 541.5h1M532 542.5h1M533 543.5h2M535 544.5h1M536 545.5h1M537 546.5h1M538 547.5h1M539 548.5h1M540 549.5h2M542 550.5h1M543 551.5h1M544 552.5h1M545 553.5h1M546 554.5h1M547 555.5h2M549 556.5h2M551 557.5h1M552 558.5h2M554 559.5h2M556 560.5h2M558 561.5h4M562 562.5h3M565 563.5h3M568 564.5h2M570 565.5h2M572 566.5h2M574 567.5h2M576 568.5h1M577 569.5h2M579 570.5h2M581 571.5h1M582 572.5h2M584 573.5h2M586 574.5h1M587 575.5h2M589 576.5h1M590 577.5h2M592 578.5h1M593 579.5h1M594 580.5h2M596 581.5h2M598 580.5h2M600 579.5h3M603 578.5h2M605 577.5h7M612 578.5h5M617 579.5h2M619 580.5h1M620 581.5h2M622 582.5h1M623 583.5h1M624 584.5h2M626 585.5h1M627 586.5h2M629 587.5h2M631 588.5h1M632 589.5h2M634 590.5h2M636 591.5h1M637 592.5h2M639 593.5h2M641 594.5h1M642 595.5h2M644 596.5h2M646 597.5h3M649 596.5h5M654 595.5h4M658 594.5h2M660 593.5h2M662 592.5h2M664 591.5h2M666 590.5h2M668 589.5h2M670 588.5h3M673 587.5h2M675 586.5h2M677 585.5h1M678 584.5h1M679 583.5h1M680 582.5h1M681.5 580v2M682 579.5h1M683 578.5h1M684 577.5h1M685 576.5h1M686 575.5h1M687 574.5h2M689 573.5h1M690 572.5h2M692 571.5h1M693 570.5h1M694 569.5h2M696 568.5h3M699 567.5h5M704 566.5h4M708 565.5h2M710 564.5h3M713 563.5h2M715 562.5h3M718 563.5h4M722 564.5h3M725 565.5h2M727 566.5h2M729 567.5h2M731 568.5h1M732 569.5h2M734 570.5h2M736 571.5h1M737 572.5h2M739 573.5h2M741 574.5h1M742 575.5h2M744 576.5h2M746 577.5h1M747 578.5h2M749 579.5h2M751 580.5h1M752 581.5h2M754 582.5h2M756 583.5h2M758 584.5h2M760 585.5h3M763 586.5h2M765 587.5h3M768 586.5h4M772 585.5h3M775 584.5h2M777 583.5h1M778 582.5h2M780 581.5h1M781 580.5h1M782 579.5h1M783 578.5h2M785 577.5h1M786 576.5h2M788 575.5h4M792 574.5h3M795 573.5h13M808 572.5h2M810 571.5h3M813 570.5h2M815 569.5h4M819 570.5h5M824 571.5h8M832 572.5h5M837 573.5h1M838 574.5h1M839 575.5h1M840 576.5h2M842 577.5h1M843 578.5h1M844 579.5h1M845 580.5h1M846 581.5h1M847 582.5h1M848 583.5h1M849 584.5h1M850 585.5h1M851 586.5h1M852 587.5h1M853 588.5h1M854 589.5h1M855 590.5h1M856 591.5h1M857 592.5h2M859 593.5h1M860 594.5h2M862 595.5h1M863 596.5h1M864 597.5h2M866 598.5h1M867 599.5h2M869 600.5h2M871 601.5h1M872 602.5h2M874 603.5h2M876 604.5h2M878 605.5h2M880 606.5h3M883 607.5h2M885 608.5h2M887 609.5h1M888 610.5h2M890 611.5h1M891 612.5h1M892 613.5h1M893 614.5h2M895 615.5h1M896 616.5h6M902 617.5h7M909 616.5h5M914 615.5h4M918 614.5h2M920 613.5h3M923 612.5h2M925 611.5h3M928 610.5h2M930 609.5h2M932 608.5h2M934 607.5h2M936 606.5h1M937 605.5h2M939 604.5h1M940 603.5h2M942 602.5h1M943 601.5h1M944 600.5h2M946 599.5h3M949 598.5h5M954 597.5h3M957 596.5h2M959 595.5h2M961 594.5h1M962 593.5h2M964 592.5h2M966 591.5h1M967 590.5h2M969 589.5h2M971 588.5h1M972 587.5h2M974 586.5h2M976 585.5h2M978 584.5h2M980 583.5h2M982 582.5h2M984 581.5h2M986 580.5h2M988 579.5h2M990 578.5h3M993 577.5h2M995 576.5h7M1002 575.5h6M1008 576.5h2M1010 577.5h2M1012 578.5h2M1014 579.5h2M1016 580.5h6M1022 581.5h10M1032 582.5h5M1037 581.5h2M1039 580.5h2M1041 579.5h1M1042 578.5h2M1044 577.5h2M1046 576.5h2M1048 575.5h2M1050 574.5h2M1052 573.5h2M1054 572.5h2M1056 571.5h1M1057 570.5h1M1058.5 568v2M1059 567.5h1M1060 566.5h1M1061 565.5h1M1062 564.5h1M1063.5 562v2M1064 561.5h1M1065 560.5h1M1066 559.5h1M1067 558.5h1M1068 557.5h1M1069 556.5h1M1070 555.5h1M1071.5 553v2M1072 552.5h1M1073 551.5h1M1074 550.5h1M1075 549.5h1M1076 548.5h1M1077.5 546v2M1078 545.5h1M1079.5 543v2M1080 542.5h1M1081.5 540v2M1082 539.5h1M1083.5 537v2M1084 536.5h1M1085.5 534v2M1086 533.5h2M1088 532.5h4M1092 531.5h3M1095 530.5h7M1102 529.5h5M1107 528.5h2M1109 527.5h2M1111 526.5h1M1112 525.5h2M1114 524.5h2M1116 523.5h2M1118 522.5h2M1120 521.5h2M1122 520.5h2M1124 519.5h2M1126 518.5h1M1127 519.5h2M1129 520.5h2M1131 521.5h1M1132 522.5h2M1134 523.5h2M1136 524.5h1M1137 525.5h2M1139 526.5h2M1141 527.5h1M1142 528.5h2M1144 529.5h2M1146 530.5h1M1147 531.5h2M1149 532.5h2M1151 533.5h1M1152 534.5h2M1154 535.5h2M1156 536.5h2M1158 537.5h2M1160 538.5h2M1162 539.5h2M1164 540.5h2M1166 541.5h1M1167 542.5h1M1168 543.5h1M1169 544.5h1M1170 545.5h2M1172 546.5h1M1173 547.5h1M1174 548.5h1M1175 549.5h1M1176 550.5h2M1178 551.5h2M1180 552.5h2M1182 553.5h2M1184 554.5h2" fill="none" stroke="#e6e6e6" stroke-width="1" shape-rendering="crispEdges"/>
<path d="M96 574.5h16M112 575.5h10M122 576.5h17M139 575.5h5M144 574.5h8M152 573.5h7M159 572.5h5M164 571.5h18M182 572.5h6M188 573.5h4M192 574.5h3M195 575.5h3M198 576.5h4M202 577.5h3M205 578.5h3M208 579.5h4M212 580.5h3M215 581.5h7M222 582.5h17M239 581.5h5M244 580.5h5M249 579.5h5M254 578.5h4M258 577.5h4M262 576.5h3M265 575.5h3M268 574.5h4M272 573.5h3M275 572.5h3M278 571.5h4M282 570.5h3M285 569.5h3M288 568.5h2M290 567.5h2M292 566.5h2M294 565.5h2M296 564.5h2M298 563.5h2M300 562.5h2M302 561.5h2M304 560.5h2M306 559.5h1M307 558.5h2M309 557.5h2M311 556.5h1M312 555.5h2M314 554.5h2M316 553.5h2M318 552.5h2M320 551.5h3M323 550.5h2M325 549.5h3M328 548.5h2M330 547.5h2M332 546.5h2M334 545.5h2M336 544.5h2M338 543.5h2M340 542.5h2M342 541.5h2M344 540.5h2M346 539.5h3M349 538.5h5M354 537.5h4M358 536.5h4M362 535.5h3M365 534.5h3M368 533.5h4M372 532.5h3M375 531.5h3M378 530.5h2M380 529.5h3M383 528.5h2M385 527.5h3M388 526.5h4M392 525.5h3M395 524.5h3M398 523.5h2M400 522.5h3M403 521.5h2M405 520.5h3M408 519.5h4M412 518.5h3M415 517.5h4M419 516.5h5M424 515.5h5M429 514.5h5M434 513.5h8M442 512.5h30M472 513.5h10M482 514.5h7M489 515.5h5M494 516.5h8M502 517.5h7M509 518.5h5M514 519.5h4M518 520.5h2M520 521.5h2M522 522.5h2M524 523.5h2M526 524.5h2M528 525.5h4M532 526.5h3M535 527.5h2M537 528.5h2M539 529.5h2M541 530.5h1M542 531.5h2M544 532.5h2M546 533.5h2M548 534.5h2M550 535.5h2M552 536.5h2M554 537.5h2M556 538.5h2M558 539.5h2M560 540.5h2M562 541.5h2M564 542.5h2M566 543.5h2M568 544.5h2M570 545.5h2M572 546.5h2M574 547.5h2M576 548.5h2M578 549.5h2M580 550.5h2M582 551.5h2M584 552.5h2M586 553.5h1M587 554.5h2M589 555.5h2M591 556.5h1M592 557.5h2M594 558.5h2M596 559.5h2M598 560.5h2M600 561.5h3M603 562.5h2M605 563.5h3M608 564.5h4M612 565.5h3M615 566.5h3M618 567.5h2M620 568.5h3M623 569.5h2M625 570.5h3M628 571.5h2M630 572.5h3M633 573.5h2M635 574.5h3M638 575.5h2M640 576.5h3M643 577.5h2M645 578.5h3M648 579.5h2M650 580.5h3M653 581.5h2M655 582.5h4M659 583.5h5M664 584.5h15M679 583.5h5M684 582.5h4M688 581.5h4M692 580.5h3M695 579.5h4M699 578.5h5M704 577.5h4M708 576.5h4M712 575.5h3M715 574.5h4M719 573.5h5M724 572.5h18M742 573.5h7M749 574.5h5M754 575.5h4M758 576.5h4M762 577.5h3M765 578.5h7M772 579.5h10M782 578.5h10M792 577.5h10M802 576.5h10M812 575.5h10M822 574.5h20M842 575.5h6M848 576.5h4M852 577.5h3M855 578.5h3M858 579.5h2M860 580.5h3M863 581.5h2M865 582.5h3M868 583.5h2M870 584.5h3M873 585.5h2M875 586.5h3M878 587.5h2M880 588.5h2M882 589.5h2M884 590.5h2M886 591.5h2M888 592.5h2M890 593.5h2M892 594.5h2M894 595.5h2M896 596.5h2M898 597.5h2M900 598.5h3M903 599.5h2M905 600.5h3M908 601.5h4M912 602.5h3M915 603.5h4M919 604.5h5M924 605.5h18M942 604.5h7M949 603.5h5M954 602.5h5M959 601.5h5M964 600.5h4M968 599.5h4M972 598.5h3M975 597.5h3M978 596.5h4M982 595.5h3M985 594.5h3M988 593.5h4M992 592.5h3M995 591.5h3M998 590.5h2M1000 589.5h3M1003 588.5h2M1005 587.5h7M1012 586.5h10M1022 585.5h10M1032 584.5h10M1042 583.5h6M1048 582.5h4M1052 581.5h3M1055 580.5h3M1058 579.5h2M1060 578.5h3M1063 577.5h2M1065 576.5h3M1068 575.5h2M1070 574.5h2M1072 573.5h2M1074 572.5h2M1076 571.5h1M1077 570.5h1M1078 569.5h1M1079 568.5h1M1080 567.5h2M1082 566.5h1M1083 565.5h1M1084 564.5h1M1085 563.5h1M1086 562.5h1M1087 561.5h2M1089 560.5h2M1091 559.5h1M1092 558.5h2M1094 557.5h2M1096 556.5h1M1097 555.5h2M1099 554.5h2M1101 553.5h1M1102 552.5h2M1104 551.5h2M1106 550.5h1M1107 549.5h2M1109 548.5h2M1111 547.5h1M1112 546.5h2M1114 545.5h2M1116 544.5h2M1118 543.5h2M1120 542.5h2M1122 541.5h2M1124 540.5h2M1126 539.5h3M1129 538.5h5M1134 537.5h8M1142 536.5h20M1162 537.5h7M1169 538.5h5M1174 539.5h4M1178 540.5h2M1180 541.5h3M1183 542.5h2M1185 543.5h1" fill="none" stroke="#e8de1c" stroke-width="1" shape-rendering="crispEdges"/>
<path d="M96 688.5h1M97 689.5h1M98.5 690v2M99 692.5h1M100 693.5h1M101.5 694v2M102 696.5h1M103 697.5h1M104.5 698v2M105 700.5h1M106 701.5h1M107 702.5h1M108 703.5h1M109 704.5h1M110 705.5h1M111.5 706v2M112 708.5h1M113 709.5h1M114 710.5h1M115 711.5h1M116 712.5h3M119 711.5h5M124 710.5h3M127 709.5h1M128 708.5h2M130 707.5h1M131 706.5h1M132 705.5h1M133 704.5h2M135 703.5h1M136 702.5h1M137.5 700v2M138.5 698v2M139 697.5h1M140.5 695v2M141 694.5h1M142.5 692v2M143.5 690v2M144 689.5h1M145.5 687v2M146 686.5h3M149 685.5h5M154 684.5h3M157 685.5h1M158 686.5h2M160 687.5h1M161 688.5h1M162 689.5h1M163 690.5h2M165 691.5h1M166 692.5h1M167 693.5h1M168 694.5h1M169 695.5h1M170 696.5h1M171.5 697v2M172 699.5h1M173 700.5h1M174 701.5h1M175 702.5h1M176 703.5h1M177.5 704v2M178 706.5h1M179 707.5h1M180.5 708v2M181 710.5h1M182.5 711v2M183 713.5h1M184 714.5h1M185.5 715v2M186 717.5h1M187 718.5h1M188 719.5h2M190 720.5h1M191 721.5h1M192 722.5h1M193 723.5h2M195 724.5h1M196 725.5h11M207 724.5h2M209 723.5h2M211 722.5h1M212 721.5h2M214 720.5h2M216 719.5h3M219 718.5h5M224 717.5h3M227.5 715v2M228 714.5h1M229 713.5h1M230.5 711v2M231 710.5h1M232.5 708v2M233 707.5h1M234 706.5h1M235.5 704v2M236 703.5h1M237 702.5h1M238 701.5h1M239 700.5h1M240 699.5h1M241.5 697v2M242 696.5h1M243 695.5h1M244 694.5h1M245 693.5h1M246 692.5h1M247 691.5h1M248 690.5h2M250 689.5h1M251 688.5h1M252 687.5h1M253 686.5h2M255 685.5h1M256 684.5h2M258 683.5h2M260 682.5h3M263 681.5h2M265 680.5h3M268 679.5h2M270 678.5h2M272 677.5h2M274 676.5h2M276 675.5h1M277 674.5h2M279 673.5h2M281 672.5h1M282 671.5h2M284 670.5h2M286 669.5h2M288 668.5h2M290 667.5h2M292 666.5h2M294 665.5h2M296 664.5h3M299 663.5h5M304 662.5h8M312 661.5h6M318 662.5h2M320 663.5h3M323 664.5h2M325 665.5h3M328 664.5h4M332 663.5h3M335 662.5h3M338 663.5h2M340 664.5h3M343 665.5h2M345 666.5h3M348 667.5h4M352 668.5h3M355 669.5h3M358 668.5h2M360 667.5h3M363 666.5h2M365 665.5h2M367 666.5h2M369 667.5h1M370 668.5h2M372 669.5h1M373 670.5h1M374 671.5h2M376 672.5h2M378 671.5h2M380 670.5h3M383 669.5h2M385 668.5h3M388 669.5h4M392 670.5h3M395 671.5h13M408 670.5h2M410 669.5h3M413 668.5h2M415 667.5h3M418 668.5h4M422 669.5h3M425 670.5h2M427 671.5h1M428 672.5h1M429 673.5h1M430 674.5h1M431 675.5h1M432 676.5h1M433 677.5h1M434 678.5h1M435 679.5h1M436 680.5h1M437 681.5h1M438 682.5h1M439 683.5h1M440 684.5h1M441.5 685v2M442 687.5h1M443 688.5h1M444 689.5h1M445 690.5h1M446 691.5h2M448 692.5h2M450 693.5h2M452 694.5h2M454 695.5h2M456 696.5h12M468 697.5h2M470 698.5h3M473 699.5h2M475 700.5h2M477 701.5h2M479 702.5h2M481 703.5h1M482 704.5h2M484 705.5h2M486 706.5h1M487 707.5h1M488 708.5h1M489 709.5h1M490 710.5h2M492 711.5h1M493 712.5h1M494 713.5h1M495 714.5h1M496 715.5h1M497 714.5h1M498 713.5h1M499 712.5h1M500 711.5h1M501 710.5h1M502 709.5h1M503 708.5h1M504 707.5h1M505 706.5h1M506 705.5h1M507 706.5h1M508 707.5h2M510 708.5h1M511 709.5h1M512 710.5h1M513 711.5h2M515 712.5h1M516 713.5h1M517 714.5h1M518 715.5h1M519 716.5h1M520 717.5h1M521 718.5h1M522 719.5h1M523 720.5h1M524 721.5h1M525 722.5h1M526 723.5h2M528 724.5h2M530 725.5h3M533 726.5h2M535 727.5h4M539 728.5h5M544 729.5h14M558 728.5h2M560 727.5h3M563 726.5h2M565 725.5h3M568 726.5h2M570 727.5h2M572 728.5h2M574 729.5h2M576 730.5h3M579 731.5h5M584 732.5h5M589 733.5h5M594 734.5h3M597.5 732v2M598.5 730v2M599 729.5h1M600.5 727v2M601 726.5h1M602.5 724v2M603.5 722v2M604 721.5h1M605.5 719v2M606 718.5h1M607 717.5h2M609 716.5h2M611 715.5h1M612 714.5h2M614 713.5h2M616 712.5h2M618 713.5h2M620 714.5h2M622 715.5h2M624 716.5h2M626 717.5h12M638 718.5h4M642 719.5h3M645 720.5h2M647 719.5h2M649 718.5h1M650 717.5h2M652 716.5h1M653 715.5h1M654 714.5h2M656 713.5h1M657 712.5h1M658 711.5h1M659 710.5h1M660 709.5h1M661 708.5h1M662 707.5h1M663 706.5h1M664 705.5h1M665 704.5h1M666 703.5h1M667 702.5h1M668 701.5h1M669 700.5h1M670 699.5h2M672 698.5h1M673 697.5h1M674 696.5h1M675 695.5h1M676 694.5h1M677 693.5h1M678 692.5h1M679 691.5h1M680 690.5h1M681.5 688v2M682 687.5h1M683 686.5h1M684 685.5h1M685 684.5h1M686 683.5h2M688 682.5h2M690 681.5h2M692 680.5h2M694 679.5h2M696 678.5h3M699 679.5h5M704 680.5h8M712 679.5h5M717 680.5h1M718 681.5h1M719 682.5h1M720 683.5h1M721 684.5h1M722 685.5h1M723 686.5h1M724 687.5h1M725 688.5h1M726 689.5h1M727.5 690v2M728 692.5h1M729 693.5h1M730.5 694v2M731 696.5h1M732.5 697v2M733 699.5h1M734 700.5h1M735.5 701v2M736 703.5h1M737 704.5h1M738.5 705v2M739 707.5h1M740 708.5h1M741 709.5h1M742 710.5h1M743.5 711v2M744 713.5h1M745 714.5h1M746 715.5h1M747 716.5h1M748 717.5h2M750 718.5h1M751 719.5h1M752 720.5h1M753 721.5h2M755 722.5h1M756 723.5h3M759 724.5h5M764 725.5h3M767 724.5h2M769 723.5h2M771 722.5h1M772 721.5h2M774 720.5h2M776 719.5h1M777.5 717v2M778 716.5h1M779 715.5h1M780.5 713v2M781 712.5h1M782.5 710v2M783 709.5h1M784 708.5h1M785.5 706v2M786 705.5h2M788 704.5h2M790 703.5h2M792 702.5h2M794 701.5h2M796 700.5h11M807 699.5h1M808 698.5h2M810 697.5h1M811 696.5h1M812 695.5h1M813 694.5h2M815 693.5h1M816 692.5h1M817 693.5h2M819 694.5h2M821 695.5h1M822 696.5h2M824 697.5h2M826 698.5h2M828 699.5h2M830 700.5h2M832 701.5h2M834 702.5h2M836 703.5h1M837 704.5h1M838.5 705v2M839 707.5h1M840 708.5h1M841 709.5h1M842 710.5h1M843.5 711v2M844 713.5h1M845 714.5h1M846 715.5h1M847 716.5h1M848 717.5h2M850 718.5h1M851 719.5h1M852 720.5h1M853 721.5h2M855 722.5h1M856 723.5h2M858 724.5h2M860 725.5h2M862 726.5h2M864 727.5h2M866 728.5h2M868 729.5h4M872 730.5h3M875 731.5h14M889 732.5h5M894 733.5h5M899 732.5h5M904 731.5h3M907 730.5h1M908 729.5h1M909 728.5h1M910 727.5h2M912 726.5h1M913 725.5h1M914 724.5h1M915 723.5h1M916 722.5h2M918 721.5h2M920 720.5h2M922 719.5h2M924 718.5h2M926 717.5h1M927.5 715v2M928.5 713v2M929.5 711v2M930.5 709v2M931 708.5h1M932.5 706v2M933.5 704v2M934.5 702v2M935.5 700v2M936 699.5h1M937 698.5h1M938 697.5h1M939 696.5h1M940 695.5h1M941.5 693v2M942 692.5h1M943 691.5h1M944 690.5h1M945 689.5h1M946 688.5h6M952 689.5h5M957 688.5h1M958 687.5h1M959 686.5h1M960 685.5h2M962 684.5h1M963 683.5h1M964 682.5h1M965 681.5h1M966 680.5h1M967 679.5h2M969 678.5h2M971 677.5h1M972 676.5h2M974 675.5h2M976 674.5h6M982 673.5h7M989 672.5h5M994 671.5h3M997.5 672v2M998 674.5h1M999.5 675v2M1000 677.5h1M1001.5 678v2M1002 680.5h1M1003.5 681v2M1004 683.5h1M1005.5 684v2M1006 686.5h1M1007.5 687v2M1008.5 689v2M1009 691.5h1M1010.5 692v2M1011 694.5h1M1012.5 695v2M1013.5 697v2M1014 699.5h1M1015.5 700v2M1016 702.5h2M1018 703.5h2M1020 704.5h2M1022 705.5h2M1024 706.5h2M1026 707.5h2M1028 708.5h2M1030 709.5h2M1032 710.5h2M1034 711.5h2M1036 712.5h1M1037 711.5h1M1038 710.5h1M1039 709.5h1M1040 708.5h1M1041.5 706v2M1042 705.5h1M1043 704.5h1M1044 703.5h1M1045 702.5h1M1046 701.5h1M1047 700.5h1M1048 699.5h1M1049 698.5h1M1050 697.5h1M1051.5 695v2M1052 694.5h1M1053 693.5h1M1054 692.5h1M1055 691.5h1M1056 690.5h1M1057 689.5h1M1058 688.5h1M1059 687.5h1M1060 686.5h1M1061 685.5h1M1062 684.5h1M1063 683.5h1M1064 682.5h1M1065 681.5h1M1066 680.5h1M1067 679.5h2M1069 678.5h2M1071 677.5h1M1072 676.5h2M1074 675.5h2M1076 674.5h1M1077 673.5h2M1079 672.5h2M1081 671.5h1M1082 670.5h2M1084 669.5h2M1086 668.5h2M1088 669.5h2M1090 670.5h2M1092 671.5h2M1094 672.5h2M1096 673.5h1M1097 674.5h2M1099 675.5h1M1100 676.5h2M1102 677.5h1M1103 678.5h1M1104 679.5h2M1106 680.5h2M1108 679.5h4M1112 678.5h3M1115 677.5h7M1122 676.5h5M1127.5 677v2M1128.5 679v2M1129.5 681v2M1130.5 683v2M1131 685.5h1M1132.5 686v2M1133.5 688v2M1134.5 690v2M1135.5 692v2M1136 694.5h1M1137 695.5h1M1138 696.5h1M1139 697.5h1M1140 698.5h1M1141 699.5h1M1142 700.5h1M1143 701.5h1M1144 702.5h1M1145 703.5h1M1146 704.5h1M1147 705.5h1M1148 706.5h1M1149 707.5h1M1150 708.5h1M1151.5 709v2M1152 711.5h1M1153 712.5h1M1154 713.5h1M1155 714.5h1M1156 715.5h2M1158 716.5h2M1160 717.5h2M1162 718.5h2M1164 719.5h2M1166 720.5h1M1167 721.5h2M1169 722.5h1M1170 723.5h2M1172 724.5h1M1173 725.5h1M1174 726.5h2M1176 727.5h2M1178 728.5h4M1182 729.5h3M1185 730.5h1" fill="none" stroke="#e6e6e6" stroke-width="1" shape-rendering="crispEdges"/>
<path d="M96 690.5h2M98 691.5h2M100 692.5h2M102 693.5h2M104 694.5h2M106 695.5h1M107 696.5h2M109 697.5h2M111 698.5h1M112 699.5h2M114 700.5h2M116 701.5h3M119 702.5h5M124 703.5h14M138 702.5h2M140 701.5h2M142 700.5h2M144 699.5h2M146 698.5h2M148 697.5h2M150 696.5h2M152 695.5h2M154 694.5h2M156 693.5h12M168 694.5h4M172 695.5h3M175 696.5h2M177 697.5h2M179 698.5h1M180 699.5h2M182 700.5h1M183 701.5h1M184 702.5h2M186 703.5h1M187 704.5h2M189 705.5h1M190 706.5h2M192 707.5h1M193 708.5h1M194 709.5h2M196 710.5h2M198 711.5h2M200 712.5h2M202 713.5h2M204 714.5h2M206 715.5h3M209 716.5h5M214 717.5h14M228 716.5h2M230 715.5h3M233 714.5h2M235 713.5h2M237 712.5h2M239 711.5h1M240 710.5h2M242 709.5h1M243 708.5h1M244 707.5h2M246 706.5h1M247 705.5h1M248 704.5h2M250 703.5h1M251 702.5h1M252 701.5h1M253 700.5h2M255 699.5h1M256 698.5h1M257 697.5h2M259 696.5h2M261 695.5h1M262 694.5h2M264 693.5h2M266 692.5h1M267 691.5h2M269 690.5h2M271 689.5h1M272 688.5h2M274 687.5h2M276 686.5h1M277 685.5h2M279 684.5h2M281 683.5h1M282 682.5h2M284 681.5h2M286 680.5h2M288 679.5h2M290 678.5h2M292 677.5h2M294 676.5h2M296 675.5h2M298 674.5h2M300 673.5h2M302 672.5h2M304 671.5h2M306 670.5h2M308 669.5h4M312 668.5h3M315 667.5h14M329 666.5h5M334 665.5h8M342 666.5h10M352 667.5h10M362 666.5h7M369 667.5h5M374 668.5h18M392 669.5h10M402 670.5h10M412 669.5h16M428 670.5h2M430 671.5h3M433 672.5h2M435 673.5h2M437 674.5h2M439 675.5h2M441 676.5h1M442 677.5h2M444 678.5h2M446 679.5h1M447 680.5h2M449 681.5h2M451 682.5h1M452 683.5h2M454 684.5h2M456 685.5h2M458 686.5h2M460 687.5h2M462 688.5h2M464 689.5h2M466 690.5h2M468 691.5h4M472 692.5h3M475 693.5h3M478 694.5h2M480 695.5h3M483 696.5h2M485 697.5h2M487 698.5h2M489 699.5h2M491 700.5h1M492 701.5h2M494 702.5h2M496 703.5h12M508 704.5h2M510 705.5h3M513 706.5h2M515 707.5h3M518 708.5h2M520 709.5h2M522 710.5h2M524 711.5h2M526 712.5h2M528 713.5h2M530 714.5h2M532 715.5h2M534 716.5h2M536 717.5h2M538 718.5h2M540 719.5h3M543 720.5h2M545 721.5h3M548 722.5h4M552 723.5h3M555 724.5h14M569 725.5h5M574 726.5h5M579 727.5h5M584 728.5h5M589 729.5h5M594 730.5h4M598 729.5h2M600 728.5h3M603 727.5h2M605 726.5h3M608 725.5h2M610 724.5h3M613 723.5h2M615 722.5h4M619 721.5h5M624 720.5h8M632 719.5h17M649 718.5h5M654 717.5h4M658 716.5h2M660 715.5h3M663 714.5h2M665 713.5h2M667 712.5h2M669 711.5h2M671 710.5h1M672 709.5h2M674 708.5h2M676 707.5h1M677 706.5h1M678 705.5h2M680 704.5h1M681 703.5h1M682 702.5h1M683 701.5h2M685 700.5h1M686 699.5h1M687 698.5h2M689 697.5h2M691 696.5h1M692 695.5h2M694 694.5h2M696 693.5h2M698 692.5h2M700 691.5h2M702 690.5h2M704 689.5h2M706 688.5h2M708 687.5h4M712 686.5h3M715 685.5h7M722 686.5h6M728 687.5h2M730 688.5h2M732 689.5h2M734 690.5h2M736 691.5h1M737 692.5h1M738 693.5h2M740 694.5h1M741 695.5h1M742 696.5h1M743 697.5h2M745 698.5h1M746 699.5h1M747 700.5h1M748 701.5h2M750 702.5h1M751 703.5h1M752 704.5h1M753 705.5h2M755 706.5h1M756 707.5h1M757 708.5h2M759 709.5h2M761 710.5h1M762 711.5h2M764 712.5h2M766 713.5h3M769 714.5h5M774 715.5h4M778 714.5h4M782 713.5h3M785 712.5h3M788 711.5h2M790 710.5h3M793 709.5h2M795 708.5h3M798 707.5h4M802 706.5h3M805 705.5h3M808 704.5h2M810 703.5h3M813 702.5h2M815 701.5h7M822 700.5h16M838 701.5h2M840 702.5h2M842 703.5h2M844 704.5h2M846 705.5h1M847 706.5h2M849 707.5h1M850 708.5h2M852 709.5h1M853 710.5h1M854 711.5h2M856 712.5h2M858 713.5h2M860 714.5h2M862 715.5h2M864 716.5h2M866 717.5h2M868 718.5h2M870 719.5h2M872 720.5h2M874 721.5h2M876 722.5h2M878 723.5h4M882 724.5h3M885 725.5h3M888 726.5h4M892 727.5h3M895 728.5h7M902 729.5h7M909 728.5h5M914 727.5h4M918 726.5h2M920 725.5h3M923 724.5h2M925 723.5h2M927 722.5h1M928 721.5h2M930 720.5h1M931 719.5h1M932 718.5h1M933 717.5h2M935 716.5h1M936 715.5h1M937 714.5h1M938 713.5h1M939 712.5h1M940 711.5h1M941 710.5h1M942 709.5h1M943 708.5h1M944 707.5h1M945 706.5h1M946 705.5h2M948 704.5h2M950 703.5h2M952 702.5h2M954 701.5h2M956 700.5h1M957 699.5h2M959 698.5h1M960 697.5h2M962 696.5h1M963 695.5h1M964 694.5h2M966 693.5h1M967 692.5h2M969 691.5h1M970 690.5h2M972 689.5h1M973 688.5h1M974 687.5h2M976 686.5h2M978 685.5h2M980 684.5h3M983 683.5h2M985 682.5h3M988 681.5h4M992 680.5h3M995 679.5h4M999 680.5h5M1004 681.5h3M1007 682.5h2M1009 683.5h1M1010 684.5h2M1012 685.5h1M1013 686.5h1M1014 687.5h2M1016 688.5h1M1017 689.5h2M1019 690.5h2M1021 691.5h1M1022 692.5h2M1024 693.5h2M1026 694.5h1M1027 695.5h2M1029 696.5h2M1031 697.5h1M1032 698.5h2M1034 699.5h2M1036 700.5h12M1048 699.5h4M1052 698.5h3M1055 697.5h2M1057 696.5h2M1059 695.5h2M1061 694.5h1M1062 693.5h2M1064 692.5h2M1066 691.5h2M1068 690.5h2M1070 689.5h2M1072 688.5h2M1074 687.5h2M1076 686.5h1M1077 685.5h2M1079 684.5h2M1081 683.5h1M1082 682.5h2M1084 681.5h2M1086 680.5h3M1089 679.5h5M1094 678.5h8M1102 679.5h10M1112 678.5h16M1128 679.5h2M1130 680.5h2M1132 681.5h2M1134 682.5h2M1136 683.5h1M1137 684.5h2M1139 685.5h1M1140 686.5h2M1142 687.5h1M1143 688.5h1M1144 689.5h2M1146 690.5h1M1147 691.5h1M1148 692.5h1M1149 693.5h1M1150 694.5h2M1152 695.5h1M1153 696.5h1M1154 697.5h1M1155 698.5h1M1156 699.5h1M1157 700.5h2M1159 701.5h1M1160 702.5h2M1162 703.5h1M1163 704.5h1M1164 705.5h2M1166 706.5h1M1167 707.5h2M1169 708.5h1M1170 709.5h2M1172 710.5h1M1173 711.5h1M1174 712.5h2M1176 713.5h2M1178 714.5h2M1180 715.5h3M1183 716.5h2M1185 717.5h1" fill="none" stroke="#e8de1c" stroke-width="1" shape-rendering="crispEdges"/>
<path d="M96.5 683v2M97.5 685v4M98.5 689v3M99.5 692v3M100.5 695v4M101.5 699v3M102.5 702v4M103.5 706v3M104.5 709v3M105.5 712v4M106.5 716v2M107.5 718v2M108.5 720v2M109.5 722v2M110.5 724v2M111 726.5h1M112.5 727v2M113.5 729v2M114.5 731v2M115.5 733v2M116 735.5h1M117 734.5h1M118.5 732v2M119 731.5h1M120 730.5h1M121 729.5h1M122 728.5h1M123.5 726v2M124 725.5h1M125 724.5h1M126.5 722v2M127.5 720v2M128.5 718v2M129.5 716v2M130.5 714v2M131.5 711v3M132.5 709v2M133.5 707v2M134.5 705v2M135.5 703v2M136.5 700v3M137.5 696v4M138.5 692v4M139.5 689v3M140.5 685v4M141.5 681v4M142.5 677v4M143.5 674v3M144.5 670v4M145.5 666v4M146.5 664v2M147 664.5h2M149 665.5h5M154 666.5h3M156 667.5h1M157.5 668v2M158.5 670v3M159.5 673v2M160.5 675v3M161.5 678v2M162.5 680v3M163.5 683v2M164.5 685v3M165.5 688v2M166.5 690v3M167.5 693v2M168.5 695v2M169.5 697v3M170.5 700v2M171.5 702v2M172.5 704v2M173.5 706v3M174.5 709v2M175.5 711v2M176.5 713v3M177.5 716v3M178.5 719v3M179.5 722v3M180.5 725v3M181.5 728v3M182.5 731v3M183.5 734v3M184.5 737v3M185.5 740v3M186.5 743v2M187 745.5h1M188 746.5h1M189 747.5h1M190 748.5h2M192 749.5h1M193 750.5h1M194 751.5h1M195 752.5h1M196 753.5h1M197 752.5h1M198 751.5h1M199 750.5h1M200 749.5h2M202 748.5h1M203 747.5h1M204 746.5h1M205 745.5h1M206 744.5h1M207.5 742v2M208.5 740v2M209.5 738v2M210.5 736v2M211.5 734v2M212.5 732v2M213.5 730v2M214.5 728v2M215.5 726v2M216 725.5h1M217 724.5h1M218 723.5h2M220 722.5h1M221 721.5h1M222 720.5h1M223 719.5h2M225 718.5h1M226.5 716v2M227.5 713v3M228.5 710v3M229.5 707v3M230.5 704v3M231.5 700v4M232.5 697v3M233.5 694v3M234.5 691v3M235.5 688v3M236.5 685v3M237.5 683v2M238.5 681v2M239.5 679v2M240.5 677v2M241.5 675v2M242.5 673v2M243.5 671v2M244.5 669v2M245.5 667v2M246 666.5h1M247 665.5h1M248.5 663v2M249 662.5h1M250 661.5h1M251 660.5h1M252 659.5h1M253.5 657v2M254 656.5h1M255 655.5h1M256 654.5h6M262 655.5h15M277 654.5h1M278 653.5h1M279 652.5h1M280 651.5h1M281.5 649v2M282 648.5h1M283 647.5h1M284 646.5h1M285 645.5h1M286 644.5h2M288 643.5h4M292 642.5h3M295 641.5h3M298 642.5h2M300 643.5h2M302 644.5h2M304 645.5h2M306 646.5h6M312 647.5h5M317.5 648v2M318.5 650v2M319.5 652v2M320.5 654v2M321 656.5h1M322.5 657v2M323.5 659v2M324.5 661v2M325.5 663v2M326 665.5h1M327 664.5h1M328 663.5h1M329 662.5h1M330 661.5h1M331 660.5h1M332 659.5h1M333 658.5h1M334 657.5h1M335 656.5h1M336 655.5h1M337 656.5h1M338.5 657v2M339 659.5h1M340 660.5h1M341.5 661v2M342 663.5h1M343 664.5h1M344.5 665v2M345 667.5h1M346 668.5h2M348 669.5h2M350 670.5h2M352 671.5h2M354 672.5h2M356 673.5h1M357 672.5h1M358 671.5h1M359 670.5h1M360 669.5h1M361 668.5h1M362 667.5h1M363 666.5h1M364 665.5h1M365 664.5h1M366 663.5h1M367.5 664v2M368.5 666v2M369 668.5h1M370.5 669v2M371 671.5h1M372.5 672v2M373.5 674v2M374 676.5h1M375.5 677v2M376 679.5h1M377 678.5h1M378.5 676v2M379 675.5h1M380 674.5h1M381 673.5h1M382 672.5h1M383.5 670v2M384 669.5h1M385 668.5h1M386 667.5h1M387 668.5h1M388 669.5h1M389 670.5h1M390 671.5h2M392 672.5h1M393 673.5h1M394 674.5h1M395 675.5h1M396 676.5h2M398 675.5h4M402 674.5h3M405 673.5h2M407 672.5h1M408 671.5h1M409 670.5h1M410 669.5h2M412 668.5h1M413 667.5h1M414 666.5h1M415 665.5h1M416 664.5h1M417 665.5h2M419 666.5h2M421 667.5h1M422 668.5h2M424 669.5h2M426.5 670v2M427.5 672v2M428.5 674v2M429.5 676v3M430.5 679v2M431.5 681v2M432.5 683v2M433.5 685v3M434.5 688v2M435.5 690v2M436.5 692v3M437.5 695v2M438.5 697v3M439.5 700v2M440.5 702v2M441.5 704v3M442.5 707v2M443.5 709v3M444.5 712v2M445.5 714v2M446.5 716v2M447 717.5h2M449 718.5h5M454 719.5h3M457 718.5h1M458 717.5h1M459 716.5h1M460 715.5h2M462 714.5h1M463 713.5h1M464 712.5h1M465 711.5h1M466 710.5h1M467 711.5h2M469 712.5h2M471 713.5h1M472 714.5h2M474 715.5h2M476 716.5h1M477 717.5h1M478 718.5h2M480 719.5h1M481 720.5h1M482 721.5h1M483 722.5h2M485 723.5h1M486 724.5h1M487.5 725v2M488 727.5h1M489 728.5h1M490.5 729v2M491 731.5h1M492.5 732v2M493 734.5h1M494 735.5h1M495.5 736v2M496.5 737v2M497.5 734v3M498.5 731v3M499.5 728v3M500.5 725v3M501.5 721v4M502.5 718v3M503.5 715v3M504.5 712v3M505.5 709v3M506.5 707v2M507.5 708v2M508.5 710v2M509.5 712v2M510.5 714v2M511.5 716v2M512.5 718v2M513.5 720v2M514.5 722v2M515.5 724v2M516.5 726v2M517.5 728v2M518.5 730v2M519.5 732v2M520.5 734v2M521.5 736v2M522.5 738v2M523.5 740v2M524.5 742v2M525.5 744v2M526 746.5h6M532 747.5h6M538 746.5h4M542 745.5h3M545 744.5h3M548 743.5h4M552 742.5h3M555 741.5h2M557.5 739v2M558 738.5h1M559 737.5h1M560.5 735v2M561 734.5h1M562.5 732v2M563 731.5h1M564 730.5h1M565.5 728v2M566 727.5h1M567 728.5h1M568 729.5h1M569 730.5h1M570 731.5h1M571 732.5h1M572 733.5h1M573 734.5h1M574 735.5h1M575 736.5h1M576 737.5h2M578 738.5h2M580 739.5h3M583 740.5h2M585 741.5h7M592 742.5h5M596 741.5h1M597.5 737v4M598.5 733v4M599.5 730v3M600.5 726v4M601.5 722v4M602.5 718v4M603.5 715v3M604.5 711v4M605.5 707v4M606.5 705v2M607 704.5h1M608.5 702v2M609 701.5h1M610 700.5h1M611.5 698v2M612 697.5h1M613 696.5h1M614.5 694v2M615 693.5h1M616 692.5h1M617.5 693v2M618.5 695v2M619.5 697v2M620.5 699v2M621.5 701v2M622.5 703v2M623.5 705v2M624.5 707v2M625.5 709v2M626 711.5h6M632 712.5h5M637 713.5h1M638 714.5h1M639 715.5h1M640 716.5h1M641.5 717v2M642 719.5h1M643 720.5h1M644 721.5h1M645 722.5h1M646 723.5h1M647.5 721v2M648.5 719v2M649.5 717v2M650.5 715v2M651.5 713v2M652.5 711v2M653.5 709v2M654.5 707v2M655.5 705v2M656 704.5h1M657.5 702v2M658 701.5h1M659.5 699v2M660 698.5h1M661.5 696v2M662 695.5h1M663.5 693v2M664 692.5h1M665.5 690v2M666 689.5h1M667.5 687v2M668.5 685v2M669 684.5h1M670.5 682v2M671.5 680v2M672.5 678v2M673 677.5h1M674.5 675v2M675.5 673v2M676.5 671v2M677.5 669v2M678.5 667v2M679.5 665v2M680.5 663v2M681.5 661v2M682.5 659v2M683.5 657v2M684.5 655v2M685.5 653v2M686.5 651v2M687 651.5h5M692 650.5h5M697.5 651v2M698 653.5h1M699.5 654v2M700 656.5h1M701.5 657v2M702 659.5h1M703.5 660v2M704 662.5h1M705.5 663v2M706 665.5h6M712 666.5h5M716 667.5h1M717.5 668v3M718.5 671v3M719.5 674v2M720.5 676v3M721.5 679v3M722.5 682v3M723.5 685v3M724.5 688v2M725.5 690v3M726.5 693v3M727.5 696v3M728.5 699v3M729.5 702v3M730.5 705v3M731.5 708v2M732.5 710v3M733.5 713v3M734.5 716v3M735.5 719v3M736.5 722v3M737.5 725v2M738.5 727v2M739.5 729v2M740.5 731v2M741.5 733v3M742.5 736v2M743.5 738v2M744.5 740v2M745.5 742v2M746.5 744v2M747 746.5h1M748 747.5h2M750 748.5h1M751 749.5h1M752 750.5h1M753 751.5h2M755 752.5h1M756 753.5h2M758 752.5h2M760 751.5h3M763 750.5h2M765 749.5h2M766 748.5h1M767.5 746v2M768.5 744v2M769.5 742v2M770.5 740v2M771.5 738v2M772.5 736v2M773.5 734v2M774.5 732v2M775.5 730v2M776.5 727v3M777.5 723v4M778.5 719v4M779.5 716v3M780.5 712v4M781.5 708v4M782.5 704v4M783.5 701v3M784.5 697v4M785.5 693v4M786.5 691v2M787 690.5h2M789 689.5h1M790 688.5h2M792 687.5h1M793 686.5h1M794 685.5h2M796 684.5h1M797 685.5h2M799 686.5h2M801 687.5h1M802 688.5h2M804 689.5h2M806 690.5h1M807.5 688v2M808 687.5h1M809.5 685v2M810 684.5h1M811.5 682v2M812 681.5h1M813.5 679v2M814 678.5h1M815.5 676v2M816.5 675v2M817.5 677v2M818.5 679v2M819.5 681v2M820.5 683v2M821.5 685v2M822.5 687v2M823.5 689v2M824.5 691v2M825.5 693v2M826.5 695v2M827 697.5h2M829 698.5h2M831 699.5h1M832 700.5h2M834 701.5h2M836.5 702v2M837.5 704v3M838.5 707v4M839.5 711v3M840.5 714v3M841.5 717v3M842.5 720v3M843.5 723v4M844.5 727v3M845.5 730v3M846.5 733v2M847 735.5h1M848.5 736v2M849 738.5h1M850 739.5h1M851.5 740v2M852 742.5h1M853 743.5h1M854.5 744v2M855 746.5h1M856 747.5h2M858 748.5h2M860 749.5h2M862 750.5h2M864 751.5h2M866 752.5h2M868 751.5h4M872 750.5h3M875 749.5h2M877 748.5h2M879 747.5h1M880 746.5h2M882 745.5h1M883 744.5h1M884 743.5h2M886 742.5h6M892 743.5h5M897 742.5h2M899 741.5h1M900 740.5h2M902 739.5h1M903 738.5h1M904 737.5h2M906.5 735v2M907.5 733v2M908.5 731v2M909.5 729v2M910.5 727v2M911.5 724v3M912.5 722v2M913.5 720v2M914.5 718v2M915.5 716v2M916.5 714v2M917 713.5h1M918 712.5h1M919 711.5h1M920 710.5h1M921.5 708v2M922 707.5h1M923 706.5h1M924 705.5h1M925 704.5h1M926.5 702v2M927.5 698v4M928.5 695v3M929.5 692v3M930.5 688v4M931.5 685v3M932.5 681v4M933.5 678v3M934.5 675v3M935.5 671v4M936.5 669v2M937.5 667v2M938.5 665v2M939.5 663v2M940.5 661v2M941 660.5h1M942.5 658v2M943.5 656v2M944.5 654v2M945.5 652v2M946 651.5h1M947.5 652v2M948 654.5h1M949.5 655v2M950 657.5h1M951.5 658v2M952 660.5h1M953.5 661v2M954 663.5h1M955.5 664v2M956 666.5h1M957 665.5h1M958.5 663v2M959 662.5h1M960 661.5h1M961 660.5h1M962 659.5h1M963.5 657v2M964 656.5h1M965 655.5h1M966 654.5h1M967 653.5h2M969 652.5h2M971 651.5h1M972 650.5h2M974 649.5h2M976 648.5h1M977 649.5h2M979 650.5h2M981 651.5h1M982 652.5h2M984 653.5h2M986 654.5h3M989 655.5h5M994 656.5h3M996 657.5h1M997.5 658v4M998.5 662v4M999.5 666v4M1000.5 670v4M1001.5 674v4M1002.5 678v4M1003.5 682v4M1004.5 686v4M1005.5 690v4M1006.5 694v3M1007.5 697v4M1008.5 701v4M1009.5 705v3M1010.5 708v4M1011.5 712v3M1012.5 715v4M1013.5 719v4M1014.5 723v3M1015.5 726v4M1016.5 730v2M1017 731.5h5M1022 732.5h6M1028 733.5h2M1030 734.5h3M1033 735.5h2M1035 736.5h2M1036 735.5h1M1037.5 731v4M1038.5 728v3M1039.5 724v4M1040.5 721v3M1041.5 717v4M1042.5 714v3M1043.5 710v4M1044.5 707v3M1045.5 703v4M1046.5 700v3M1047.5 698v2M1048.5 695v3M1049.5 693v2M1050.5 691v2M1051.5 688v3M1052.5 686v2M1053.5 683v3M1054.5 681v2M1055.5 679v2M1056.5 676v3M1057.5 674v2M1058.5 672v2M1059.5 670v2M1060.5 668v2M1061.5 666v2M1062.5 664v2M1063.5 662v2M1064.5 660v2M1065.5 658v2M1066.5 656v2M1067 656.5h1M1068 655.5h2M1070 654.5h3M1073 653.5h2M1075 652.5h2M1077 651.5h1M1078 650.5h1M1079 649.5h1M1080 648.5h2M1082 647.5h1M1083 646.5h1M1084 645.5h1M1085 644.5h1M1086.5 643v2M1087.5 645v2M1088.5 647v2M1089.5 649v2M1090.5 651v2M1091.5 653v3M1092.5 656v2M1093.5 658v2M1094.5 660v2M1095.5 662v2M1096.5 664v2M1097.5 666v2M1098.5 668v2M1099 670.5h1M1100.5 671v2M1101.5 673v2M1102.5 675v2M1103 677.5h1M1104.5 678v2M1105.5 680v2M1106 682.5h2M1108 681.5h2M1110 680.5h2M1112 679.5h2M1114 678.5h2M1116 677.5h3M1119 676.5h5M1124 675.5h3M1126 676.5h1M1127.5 677v4M1128.5 681v4M1129.5 685v3M1130.5 688v4M1131.5 692v4M1132.5 696v4M1133.5 700v3M1134.5 703v4M1135.5 707v4M1136.5 711v3M1137.5 714v2M1138.5 716v2M1139.5 718v2M1140.5 720v2M1141.5 722v3M1142.5 725v2M1143.5 727v2M1144.5 729v2M1145.5 731v2M1146.5 733v2M1147 735.5h1M1148.5 736v2M1149 738.5h1M1150 739.5h1M1151.5 740v2M1152 742.5h1M1153 743.5h1M1154.5 744v2M1155 746.5h1M1156 747.5h2M1158 748.5h4M1162 749.5h3M1165 750.5h3M1168 751.5h4M1172 752.5h3M1175 753.5h7M1182 752.5h4" fill="none" stroke="#e61ee6" stroke-width="1" shape-rendering="crispEdges"/>
<text x="92" y="14.06" font-size="12" fill="#f4f4f4" font-family="&quot;Liberation Sans&quot;, &quot;Noto Sans CJK SC&quot;, sans-serif" textLength="60" lengthAdjust="spacingAndGlyphs">美原油连续</text>
<text x="152" y="14.06" font-size="12" fill="#f5a93a" font-family="&quot;Liberation Sans&quot;, &quot;Noto Sans CJK SC&quot;, sans-serif" textLength="48" lengthAdjust="spacingAndGlyphs">【日线】</text>
<g stroke="#f5a93a" fill="none" stroke-width="1"><circle cx="205.5" cy="11.5" r="4"/><path d="M201.5 11.5H209.5M205.5 7.5V15.5"/></g>
<g shape-rendering="crispEdges"><rect x="219" y="3" width="11" height="12" fill="#9a9a90"/><rect x="217.5" y="1.5" width="11" height="12" fill="#ffffff" stroke="#000090"/></g>
<polyline points="218.5,8.5 221.5,4.5 224.5,7.5 226,5.7 228,5.7" fill="none" stroke="#ff0000" stroke-width="1.2"/>
<polyline points="218.5,11.7 221.5,7.7 224.5,10.6 226.3,8.5 228,8.5" fill="none" stroke="#0000ff" stroke-width="1.2"/>
<text x="233" y="13.5" font-size="12" fill="#e8e8e8" textLength="60.5" lengthAdjust="spacingAndGlyphs">BOLL(26,2)</text>
<text x="298.5" y="13.5" font-size="12" fill="#e8e8e8" textLength="58.5" lengthAdjust="spacingAndGlyphs">MID:71.44</text>
<text x="366" y="13.5" font-size="12" fill="#e8de1c" textLength="70.5" lengthAdjust="spacingAndGlyphs">UPPER:76.33</text>
<text x="445.5" y="13.5" font-size="12" fill="#e61ee6" textLength="76" lengthAdjust="spacingAndGlyphs">LOWER:66.54</text>
<text x="92.3" y="478" font-size="12" fill="#e8e8e8" textLength="85" lengthAdjust="spacingAndGlyphs">MACD(26,12,9)</text>
<text x="183" y="478" font-size="12" fill="#e8e8e8" textLength="56" lengthAdjust="spacingAndGlyphs">DIFF:-0.38</text>
<text x="247.3" y="478" font-size="12" fill="#e8de1c" textLength="50" lengthAdjust="spacingAndGlyphs">DEA:0.06</text>
<text x="307" y="478" font-size="12" fill="#e61ee6" textLength="66.5" lengthAdjust="spacingAndGlyphs">MACD:-0.87</text>
<text x="92" y="633" font-size="12" fill="#e8e8e8" textLength="56.3" lengthAdjust="spacingAndGlyphs">KDJ(9,3,3)</text>
<text x="153.4" y="633" font-size="12" fill="#e8e8e8" textLength="41" lengthAdjust="spacingAndGlyphs">K:16.50</text>
<text x="203.8" y="633" font-size="12" fill="#e8de1c" textLength="42" lengthAdjust="spacingAndGlyphs">D:28.75</text>
<text x="254.2" y="633" font-size="12" fill="#e61ee6" textLength="35" lengthAdjust="spacingAndGlyphs">J:-8.01</text>
<g shape-rendering="crispEdges" fill="none" stroke="#b4b4b4">
<rect x="1154.5" y="1.5" width="13" height="13" fill="#000"/>
<rect x="1170.5" y="1.5" width="13" height="13" fill="#000"/>
<rect x="1186.5" y="1.5" width="13" height="13" fill="#000"/>
<rect x="1202.5" y="1.5" width="13" height="13" fill="#000"/>
</g>
<g shape-rendering="crispEdges" fill="#b4b4b4">
<rect x="1160" y="3" width="2" height="3" fill="#b4b4b4"/>
<rect x="1160" y="7" width="2" height="2" fill="#b4b4b4"/>
<rect x="1160" y="10" width="2" height="3" fill="#b4b4b4"/>
<rect x="1156" y="7" width="3" height="2" fill="#b4b4b4"/>
<rect x="1163" y="7" width="3" height="2" fill="#b4b4b4"/>
<rect x="1173" y="3" width="1" height="10" fill="#b4b4b4"/>
<rect x="1172" y="4" width="3" height="1" fill="#b4b4b4"/>
<rect x="1172" y="11" width="10" height="1" fill="#b4b4b4"/>
<rect x="1180" y="10" width="1" height="3" fill="#b4b4b4"/>
<rect x="1173" y="10" width="1" height="3" fill="#b4b4b4"/>
<rect x="1176" y="4" width="1" height="6" fill="#b4b4b4"/>
</g>
<path d="M1180 4L1177.5 6.8L1180 9.5Z" fill="#b4b4b4"/>
<g shape-rendering="crispEdges">
<rect x="1189" y="3" width="1" height="10" fill="#b4b4b4"/>
<rect x="1188" y="4" width="3" height="1" fill="#b4b4b4"/>
<rect x="1188" y="11" width="10" height="1" fill="#b4b4b4"/>
<rect x="1196" y="10" width="1" height="3" fill="#b4b4b4"/>
</g>
<path d="M1192.3 4.2L1197 7.3L1192.3 10.4Z" fill="#9a9a9a"/>
<rect x="1204.5" y="3.5" width="3" height="9" fill="none" stroke="#b4b4b4" shape-rendering="crispEdges"/>
<path d="M1206.5 7H1210V5L1213 7.5L1210 10V8H1206.5Z" fill="#b4b4b4"/>
<g stroke="#ff1010" stroke-width="1.2">
<line x1="34.0" y1="626.0" x2="36.0" y2="626.0"/>
<line x1="32.5" y1="629.5" x2="33.9" y2="630.9"/>
<line x1="29.0" y1="631.0" x2="29.0" y2="633.0"/>
<line x1="25.5" y1="629.5" x2="24.1" y2="630.9"/>
<line x1="24.0" y1="626.0" x2="22.0" y2="626.0"/>
<line x1="25.5" y1="622.5" x2="24.1" y2="621.1"/>
<line x1="29.0" y1="621.0" x2="29.0" y2="619.0"/>
<line x1="32.5" y1="622.5" x2="33.9" y2="621.1"/>
</g>
<circle cx="29" cy="626" r="3.2" fill="#fff"/><circle cx="29" cy="626" r="1.7" fill="#ff1010"/>
<text x="188.2" y="767" font-size="12" fill="#c4c8cc" font-weight="bold" textLength="45" lengthAdjust="spacingAndGlyphs">2024/06</text>
<text x="388.6" y="767" font-size="12" fill="#c4c8cc" font-weight="bold" textLength="45" lengthAdjust="spacingAndGlyphs">2024/07</text>
<text x="618.8" y="767" font-size="12" fill="#c4c8cc" font-weight="bold" textLength="45" lengthAdjust="spacingAndGlyphs">2024/08</text>
<text x="838.8" y="767" font-size="12" fill="#c4c8cc" font-weight="bold" textLength="45" lengthAdjust="spacingAndGlyphs">2024/09</text>
<text x="1048.6" y="767" font-size="12" fill="#c4c8cc" font-weight="bold" textLength="45" lengthAdjust="spacingAndGlyphs">2024/10</text>
<path d="M37 760.5h7M37 761.5h1M43 761.5h1M37 762.5h1M43 762.5h1M37 763.5h1M43 763.5h1M37 764.5h7M37 765.5h1M43 765.5h1M37 766.5h1M43 766.5h1M37 767.5h1M43 767.5h1M37 768.5h7M37 769.5h1M43 769.5h1M49 759.5h1M53 759.5h1M55 759.5h1M49 760.5h1M53 760.5h1M56 760.5h1M48 761.5h1M53 761.5h4M48 762.5h1M51 762.5h3M47 763.5h3M53 763.5h5M49 764.5h1M51 764.5h3M48 765.5h1M53 765.5h1M56 765.5h1M47 766.5h4M53 766.5h1M55 766.5h1M51 767.5h1M54 767.5h1M57 767.5h1M49 768.5h2M53 768.5h1M55 768.5h1M57 768.5h1M47 769.5h2M51 769.5h2M56 769.5h2" fill="none" stroke="#ffc04d" stroke-width="1" shape-rendering="crispEdges"/>
<path d="M38 760.5h7M38 761.5h1M44 761.5h1M38 762.5h1M44 762.5h1M38 763.5h1M44 763.5h1M38 764.5h7M38 765.5h1M44 765.5h1M38 766.5h1M44 766.5h1M38 767.5h1M44 767.5h1M38 768.5h7M38 769.5h1M44 769.5h1M50 759.5h1M54 759.5h1M56 759.5h1M50 760.5h1M54 760.5h1M57 760.5h1M49 761.5h1M54 761.5h4M49 762.5h1M52 762.5h3M48 763.5h3M54 763.5h5M50 764.5h1M52 764.5h3M49 765.5h1M54 765.5h1M57 765.5h1M48 766.5h4M54 766.5h1M56 766.5h1M52 767.5h1M55 767.5h1M58 767.5h1M50 768.5h2M54 768.5h1M56 768.5h1M58 768.5h1M48 769.5h2M52 769.5h2M57 769.5h2" fill="none" stroke="#ffc04d" stroke-width="1" shape-rendering="crispEdges"/>
<path d="M69 761L73.3 769H64.8Z" fill="#ffb848"/>
<rect x="20" y="774" width="386" height="16" fill="#0e0e0e"/>
<rect x="60" y="774" width="39" height="16" fill="#454855"/>
<rect x="238" y="774" width="39" height="16" fill="#454855"/>
<rect x="59" y="774" width="1" height="16" fill="#1c1c1c"/>
<rect x="99" y="774" width="1" height="16" fill="#1c1c1c"/>
<rect x="157" y="774" width="1" height="16" fill="#1c1c1c"/>
<rect x="197" y="774" width="1" height="16" fill="#1c1c1c"/>
<rect x="237" y="774" width="1" height="16" fill="#1c1c1c"/>
<rect x="277" y="774" width="1" height="16" fill="#1c1c1c"/>
<rect x="341" y="774" width="1" height="16" fill="#1c1c1c"/>
<rect x="405" y="774" width="1" height="16" fill="#1c1c1c"/>
<rect x="60" y="774" width="39" height="16" fill="#454855"/>
<rect x="238" y="774" width="39" height="16" fill="#454855"/>
<path d="M30 777.5h1M34 777.5h1M30 778.5h1M34 778.5h1M37 778.5h2M28 779.5h5M34 779.5h3M30 780.5h1M34 780.5h1M38 780.5h1M30 781.5h1M32 781.5h1M34 781.5h5M30 782.5h2M29 783.5h2M34 783.5h5M28 784.5h1M30 784.5h1M34 784.5h1M38 784.5h1M30 785.5h1M34 785.5h5M30 786.5h1M34 786.5h1M38 786.5h1M28 787.5h3M34 787.5h5M42 777.5h1M45 777.5h5M42 778.5h1M40 779.5h5M42 780.5h1M44 780.5h7M42 781.5h1M47 781.5h1M41 782.5h3M47 782.5h1M41 783.5h2M45 783.5h1M47 783.5h1M49 783.5h1M40 784.5h1M42 784.5h1M45 784.5h1M47 784.5h1M50 784.5h1M42 785.5h1M44 785.5h1M47 785.5h1M50 785.5h1M42 786.5h1M47 786.5h1M42 787.5h1M46 787.5h2" fill="none" stroke="#c8c8c8" stroke-width="1" shape-rendering="crispEdges"/>
<path d="M70 777.5h1M74 777.5h1M76 777.5h1M70 778.5h1M72 778.5h7M68 779.5h4M74 779.5h1M76 779.5h1M70 780.5h1M73 780.5h5M70 781.5h2M73 781.5h1M77 781.5h1M69 782.5h2M72 782.5h6M69 783.5h2M73 783.5h1M77 783.5h1M68 784.5h1M70 784.5h1M72 784.5h7M70 785.5h1M75 785.5h1M70 786.5h1M74 786.5h1M76 786.5h1M70 787.5h1M72 787.5h2M77 787.5h2M82 777.5h1M88 777.5h2M82 778.5h1M85 778.5h3M80 779.5h6M82 780.5h1M85 780.5h1M82 781.5h1M85 781.5h5M81 782.5h3M85 782.5h1M89 782.5h1M81 783.5h2M84 783.5h3M89 783.5h1M80 784.5h1M82 784.5h1M85 784.5h1M87 784.5h2M82 785.5h1M84 785.5h1M88 785.5h1M82 786.5h1M84 786.5h1M87 786.5h1M89 786.5h1M82 787.5h2M85 787.5h2M90 787.5h1" fill="none" stroke="#ffffff" stroke-width="1" shape-rendering="crispEdges"/>
<path d="M109 779.5h2M112 779.5h2M109 780.5h1M113 780.5h1M109 781.5h1M113 781.5h1M110 782.5h1M112 782.5h1M110 783.5h1M112 783.5h1M110 784.5h1M112 784.5h1M111 785.5h1M111 786.5h1M115 779.5h5M117 780.5h1M117 781.5h1M117 782.5h1M117 783.5h1M117 784.5h1M117 785.5h1M115 786.5h5M121 779.5h4M122 780.5h1M125 780.5h1M122 781.5h1M125 781.5h1M122 782.5h1M125 782.5h1M122 783.5h3M122 784.5h1M122 785.5h1M121 786.5h3" fill="none" stroke="#f5b63c" stroke-width="1" shape-rendering="crispEdges"/>
<path d="M129 777.5h1M133 777.5h1M129 778.5h1M133 778.5h1M136 778.5h2M127 779.5h5M133 779.5h3M129 780.5h1M133 780.5h1M137 780.5h1M129 781.5h1M131 781.5h1M133 781.5h5M129 782.5h2M128 783.5h2M133 783.5h5M127 784.5h1M129 784.5h1M133 784.5h1M137 784.5h1M129 785.5h1M133 785.5h5M129 786.5h1M133 786.5h1M137 786.5h1M127 787.5h3M133 787.5h5M141 777.5h1M144 777.5h5M141 778.5h1M139 779.5h5M141 780.5h1M143 780.5h7M141 781.5h1M146 781.5h1M140 782.5h3M146 782.5h1M140 783.5h2M144 783.5h1M146 783.5h1M148 783.5h1M139 784.5h1M141 784.5h1M144 784.5h1M146 784.5h1M149 784.5h1M141 785.5h1M143 785.5h1M146 785.5h1M149 785.5h1M141 786.5h1M146 786.5h1M141 787.5h1M145 787.5h2" fill="none" stroke="#f5b63c" stroke-width="1" shape-rendering="crispEdges"/>
<path d="M168 777.5h1M171 777.5h5M168 778.5h1M166 779.5h5M168 780.5h1M170 780.5h7M168 781.5h1M173 781.5h1M167 782.5h3M173 782.5h1M167 783.5h2M171 783.5h1M173 783.5h1M175 783.5h1M166 784.5h1M168 784.5h1M171 784.5h1M173 784.5h1M176 784.5h1M168 785.5h1M170 785.5h1M173 785.5h1M176 785.5h1M168 786.5h1M173 786.5h1M168 787.5h1M172 787.5h2M182 777.5h1M184 777.5h1M178 778.5h1M182 778.5h1M185 778.5h1M179 779.5h1M182 779.5h7M179 780.5h1M181 780.5h2M185 780.5h1M182 781.5h1M185 781.5h1M180 782.5h1M182 782.5h6M180 783.5h1M182 783.5h1M185 783.5h1M178 784.5h2M182 784.5h6M179 785.5h1M182 785.5h1M185 785.5h1M179 786.5h1M182 786.5h1M185 786.5h1M179 787.5h1M182 787.5h7" fill="none" stroke="#c8c8c8" stroke-width="1" shape-rendering="crispEdges"/>
<path d="M206 778.5h2M209 778.5h2M206 779.5h2M209 779.5h2M206 780.5h1M208 780.5h1M210 780.5h1M206 781.5h1M208 781.5h1M210 781.5h1M206 782.5h1M208 782.5h1M210 782.5h1M206 783.5h1M210 783.5h1M206 784.5h1M210 784.5h1M206 785.5h2M209 785.5h2M214 778.5h1M214 779.5h1M213 780.5h1M215 780.5h1M213 781.5h1M215 781.5h1M213 782.5h3M212 783.5h1M216 783.5h1M212 784.5h1M216 784.5h1M212 785.5h2M215 785.5h2M219 778.5h4M218 779.5h1M222 779.5h1M218 780.5h1M218 781.5h1M218 782.5h1M218 783.5h1M218 784.5h1M222 784.5h1M219 785.5h3M224 778.5h4M225 779.5h1M228 779.5h1M225 780.5h1M228 780.5h1M225 781.5h1M228 781.5h1M225 782.5h1M228 782.5h1M225 783.5h1M228 783.5h1M225 784.5h1M228 784.5h1M224 785.5h4" fill="none" stroke="#d0d0d0" stroke-width="1" shape-rendering="crispEdges"/>
<path d="M246 778.5h4M247 779.5h1M250 779.5h1M247 780.5h1M250 780.5h1M247 781.5h3M247 782.5h1M250 782.5h1M247 783.5h1M250 783.5h1M247 784.5h1M250 784.5h1M246 785.5h4M253 778.5h3M252 779.5h1M256 779.5h1M252 780.5h1M256 780.5h1M252 781.5h1M256 781.5h1M252 782.5h1M256 782.5h1M252 783.5h1M256 783.5h1M252 784.5h1M256 784.5h1M253 785.5h3M258 778.5h3M259 779.5h1M259 780.5h1M259 781.5h1M259 782.5h1M259 783.5h1M259 784.5h1M262 784.5h1M258 785.5h5M264 778.5h3M265 779.5h1M265 780.5h1M265 781.5h1M265 782.5h1M265 783.5h1M265 784.5h1M268 784.5h1M264 785.5h5" fill="none" stroke="#ffffff" stroke-width="1" shape-rendering="crispEdges"/>
<path d="M290 777.5h7M290 778.5h1M296 778.5h1M290 779.5h1M296 779.5h1M290 780.5h7M290 781.5h1M293 781.5h1M296 781.5h1M293 782.5h1M289 783.5h9M292 784.5h1M297 784.5h1M291 785.5h1M297 785.5h1M290 786.5h1M297 786.5h1M288 787.5h2M294 787.5h3M303 777.5h1M299 778.5h11M302 779.5h1M301 780.5h1M303 780.5h6M301 781.5h1M307 781.5h1M300 782.5h2M306 782.5h1M299 783.5h1M301 783.5h9M301 784.5h1M306 784.5h1M301 785.5h1M306 785.5h1M301 786.5h1M306 786.5h1M301 787.5h1M304 787.5h3M313 777.5h1M317 777.5h1M319 777.5h1M313 778.5h1M315 778.5h7M311 779.5h4M317 779.5h1M319 779.5h1M313 780.5h1M316 780.5h5M313 781.5h2M316 781.5h1M320 781.5h1M312 782.5h2M315 782.5h6M312 783.5h2M316 783.5h1M320 783.5h1M311 784.5h1M313 784.5h1M315 784.5h7M313 785.5h1M318 785.5h1M313 786.5h1M317 786.5h1M319 786.5h1M313 787.5h1M315 787.5h2M320 787.5h2M325 777.5h1M331 777.5h2M325 778.5h1M328 778.5h3M323 779.5h6M325 780.5h1M328 780.5h1M325 781.5h1M328 781.5h5M324 782.5h3M328 782.5h1M332 782.5h1M324 783.5h2M327 783.5h3M332 783.5h1M323 784.5h1M325 784.5h1M328 784.5h1M330 784.5h2M325 785.5h1M327 785.5h1M331 785.5h1M325 786.5h1M327 786.5h1M330 786.5h1M332 786.5h1M325 787.5h2M328 787.5h2M333 787.5h1" fill="none" stroke="#c8c8c8" stroke-width="1" shape-rendering="crispEdges"/>
<path d="M352 777.5h1M357 777.5h1M352 778.5h4M357 778.5h4M351 779.5h1M353 779.5h1M356 779.5h1M358 779.5h1M350 780.5h11M350 781.5h1M360 781.5h1M352 782.5h7M352 783.5h1M358 783.5h1M352 784.5h8M352 785.5h1M359 785.5h1M352 786.5h1M359 786.5h1M352 787.5h8M366 777.5h7M362 778.5h5M369 778.5h1M372 778.5h1M364 779.5h1M366 779.5h7M364 780.5h1M366 780.5h1M369 780.5h1M372 780.5h1M364 781.5h1M366 781.5h1M369 781.5h1M372 781.5h1M362 782.5h11M364 783.5h1M369 783.5h1M364 784.5h1M367 784.5h5M364 785.5h2M369 785.5h1M362 786.5h2M369 786.5h1M366 787.5h7M376 777.5h1M380 777.5h1M382 777.5h1M376 778.5h1M378 778.5h7M374 779.5h4M380 779.5h1M382 779.5h1M376 780.5h1M379 780.5h5M376 781.5h2M379 781.5h1M383 781.5h1M375 782.5h2M378 782.5h6M375 783.5h2M379 783.5h1M383 783.5h1M374 784.5h1M376 784.5h1M378 784.5h7M376 785.5h1M381 785.5h1M376 786.5h1M380 786.5h1M382 786.5h1M376 787.5h1M378 787.5h2M383 787.5h2M388 777.5h1M394 777.5h2M388 778.5h1M391 778.5h3M386 779.5h6M388 780.5h1M391 780.5h1M388 781.5h1M391 781.5h5M387 782.5h3M391 782.5h1M395 782.5h1M387 783.5h2M390 783.5h3M395 783.5h1M386 784.5h1M388 784.5h1M391 784.5h1M393 784.5h2M388 785.5h1M390 785.5h1M394 785.5h1M388 786.5h1M390 786.5h1M393 786.5h1M395 786.5h1M388 787.5h2M391 787.5h2M396 787.5h1" fill="none" stroke="#c8c8c8" stroke-width="1" shape-rendering="crispEdges"/>
</svg>
</body></html>
